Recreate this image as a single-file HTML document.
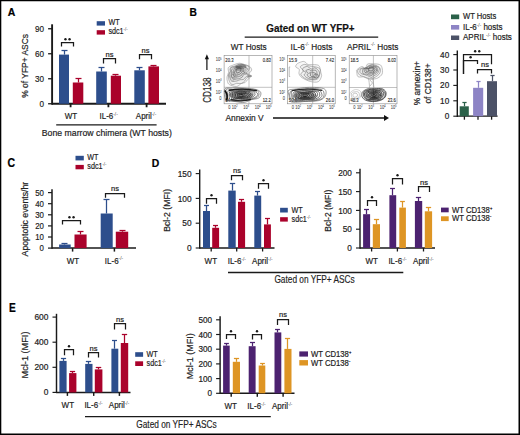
<!DOCTYPE html>
<html><head><meta charset="utf-8"><title>Figure</title>
<style>
html,body{margin:0;padding:0;background:#fff;}
body{width:520px;height:435px;overflow:hidden;}
svg{display:block;font-family:"Liberation Sans", sans-serif;}
</style></head>
<body>
<svg width="520" height="435" viewBox="0 0 520 435">
<rect x="0" y="0" width="520" height="435" fill="#fff"/>
<text transform="translate(7.7 15.9) scale(0.95 1)" font-size="11.03" text-anchor="start" font-weight="bold" fill="#000" stroke="#000" stroke-width="0.2" >A</text>
<line x1="52.1" y1="24.3" x2="52.1" y2="104.7" stroke="#1a1a1a" stroke-width="1.9"/>
<line x1="48.1" y1="103.75" x2="52.1" y2="103.75" stroke="#1a1a1a" stroke-width="1.3"/>
<text transform="translate(44 106.95) scale(0.83 1)" font-size="9.84" text-anchor="end" font-weight="normal" fill="#222" stroke="#222" stroke-width="0.2" >0</text>
<line x1="48.1" y1="78.75" x2="52.1" y2="78.75" stroke="#1a1a1a" stroke-width="1.3"/>
<text transform="translate(44 81.95) scale(0.83 1)" font-size="9.84" text-anchor="end" font-weight="normal" fill="#222" stroke="#222" stroke-width="0.2" >30</text>
<line x1="48.1" y1="53.75" x2="52.1" y2="53.75" stroke="#1a1a1a" stroke-width="1.3"/>
<text transform="translate(44 56.95) scale(0.83 1)" font-size="9.84" text-anchor="end" font-weight="normal" fill="#222" stroke="#222" stroke-width="0.2" >60</text>
<line x1="48.1" y1="28.75" x2="52.1" y2="28.75" stroke="#1a1a1a" stroke-width="1.3"/>
<text transform="translate(44 31.95) scale(0.83 1)" font-size="9.84" text-anchor="end" font-weight="normal" fill="#222" stroke="#222" stroke-width="0.2" >90</text>
<text transform="translate(28.2 65.9) rotate(-90) scale(1 1)" font-size="9.6" text-anchor="middle" fill="#222" stroke="#222" stroke-width="0.2" textLength="63.6" lengthAdjust="spacingAndGlyphs">% of YFP+ ASCs</text>
<line x1="52" y1="103.75" x2="166" y2="103.75" stroke="#1a1a1a" stroke-width="1.8"/>
<line x1="70.6" y1="103.75" x2="70.6" y2="107.25" stroke="#1a1a1a" stroke-width="1.8"/>
<line x1="108.4" y1="103.75" x2="108.4" y2="107.25" stroke="#1a1a1a" stroke-width="1.8"/>
<line x1="146.6" y1="103.75" x2="146.6" y2="107.25" stroke="#1a1a1a" stroke-width="1.8"/>
<rect x="59" y="54.6" width="10" height="49.15" fill="#2d4e8c"/>
<line x1="64.5" y1="54.6" x2="64.5" y2="50.5" stroke="#2d4e8c" stroke-width="1.25"/>
<line x1="61.5" y1="50.5" x2="67.5" y2="50.5" stroke="#2d4e8c" stroke-width="1.25"/>
<rect x="72.8" y="82.5" width="10.5" height="21.25" fill="#aa022b"/>
<line x1="78.5" y1="82.5" x2="78.5" y2="78.5" stroke="#aa022b" stroke-width="1.25"/>
<line x1="75.5" y1="78.5" x2="81.5" y2="78.5" stroke="#aa022b" stroke-width="1.25"/>
<rect x="96.2" y="71.5" width="10.6" height="32.25" fill="#2d4e8c"/>
<line x1="101.5" y1="71.5" x2="101.5" y2="67.5" stroke="#2d4e8c" stroke-width="1.25"/>
<line x1="98.5" y1="67.5" x2="104.5" y2="67.5" stroke="#2d4e8c" stroke-width="1.25"/>
<rect x="110.8" y="75.7" width="10.2" height="28.05" fill="#aa022b"/>
<line x1="115.5" y1="75.7" x2="115.5" y2="74.5" stroke="#aa022b" stroke-width="1.25"/>
<line x1="112.5" y1="74.5" x2="118.5" y2="74.5" stroke="#aa022b" stroke-width="1.25"/>
<rect x="134.3" y="70.3" width="10.5" height="33.45" fill="#2d4e8c"/>
<line x1="139.5" y1="70.3" x2="139.5" y2="67.5" stroke="#2d4e8c" stroke-width="1.25"/>
<line x1="136.5" y1="67.5" x2="142.5" y2="67.5" stroke="#2d4e8c" stroke-width="1.25"/>
<rect x="148.4" y="66.4" width="10.6" height="37.35" fill="#aa022b"/>
<line x1="153.5" y1="66.4" x2="153.5" y2="65.5" stroke="#aa022b" stroke-width="1.25"/>
<line x1="150.5" y1="65.5" x2="156.5" y2="65.5" stroke="#aa022b" stroke-width="1.25"/>
<path d="M61.5 46.4V42.5H73.5V46.4" fill="none" stroke="#1a1a1a" stroke-width="1.25"/>
<circle cx="65.45" cy="39.2" r="1.2" fill="#1a1a1a"/>
<circle cx="69.55" cy="39.2" r="1.2" fill="#1a1a1a"/>
<path d="M103.5 63.5V58.5H115.5V63.5" fill="none" stroke="#1a1a1a" stroke-width="1.25"/>
<text x="109.5" y="56.9" font-size="7.5" text-anchor="middle" font-weight="normal" fill="#222" stroke="#222" stroke-width="0.2" >ns</text>
<path d="M139.5 59.2V54.5H151.5V59.2" fill="none" stroke="#1a1a1a" stroke-width="1.25"/>
<text x="145.5" y="52.9" font-size="7.5" text-anchor="middle" font-weight="normal" fill="#222" stroke="#222" stroke-width="0.2" >ns</text>
<text transform="translate(71 119.2) scale(0.87 1)" font-size="9.2" text-anchor="middle" font-weight="normal" fill="#222" stroke="#222" stroke-width="0.2" >WT</text>
<text transform="translate(99.5 119.2) scale(0.87 1)" font-size="9.2" text-anchor="start" font-weight="normal" fill="#222" stroke="#222" stroke-width="0.2" >IL-6<tspan font-size="5.4" dy="-3.1" fill="#555" stroke="#555" stroke-width="0.05">-/-</tspan></text>
<text transform="translate(135.8 119.2) scale(0.87 1)" font-size="9.2" text-anchor="start" font-weight="normal" fill="#222" stroke="#222" stroke-width="0.2" >April<tspan font-size="5.4" dy="-3.1" fill="#555" stroke="#555" stroke-width="0.05">-/-</tspan></text>
<line x1="56.2" y1="124.8" x2="156.6" y2="124.8" stroke="#1a1a1a" stroke-width="1.3"/>
<text transform="translate(41.8 135.8) scale(0.87 1)" font-size="9.72" text-anchor="start" font-weight="normal" fill="#222" stroke="#222" stroke-width="0.2"  textLength="149.5" lengthAdjust="spacingAndGlyphs">Bone marrow chimera (WT hosts)</text>
<rect x="96.7" y="21.2" width="8.3" height="4.4" fill="#2d4e8c"/>
<text transform="translate(108.4 25.4) scale(0.78 1)" font-size="9.22" text-anchor="start" font-weight="normal" fill="#222" stroke="#222" stroke-width="0.2" >WT</text>
<rect x="96.7" y="30.2" width="8.3" height="4.4" fill="#aa022b"/>
<text transform="translate(108.4 34.3) scale(0.78 1)" font-size="9.22" text-anchor="start" font-weight="normal" fill="#222" stroke="#222" stroke-width="0.2" >sdc1<tspan font-size="5.4" dy="-3.1" fill="#555" stroke="#555" stroke-width="0.05">-/-</tspan></text>
<text transform="translate(189.4 15.9) scale(0.93 1)" font-size="11.02" text-anchor="start" font-weight="bold" fill="#000" stroke="#000" stroke-width="0.2" >B</text>
<text transform="translate(266.3 31.5) scale(0.89 1)" font-size="11.09" text-anchor="start" font-weight="bold" fill="#111" stroke="#111" stroke-width="0.2" >Gated on WT YFP+</text>
<line x1="244.7" y1="37.2" x2="378.2" y2="37.2" stroke="#1a1a1a" stroke-width="1.3"/>
<text transform="translate(230.8 49.6) scale(0.87 1)" font-size="9.43" text-anchor="start" font-weight="normal" fill="#222" stroke="#222" stroke-width="0.2" >WT Hosts</text>
<text transform="translate(290.6 49.6) scale(0.87 1)" font-size="9.43" text-anchor="start" font-weight="normal" fill="#222" stroke="#222" stroke-width="0.2" >IL-6<tspan font-size="5.3" dy="-3.6" fill="#555" stroke="#555" stroke-width="0.05">-/-</tspan><tspan dy="3.6"> Hosts</tspan></text>
<text transform="translate(347 49.6) scale(0.87 1)" font-size="9.43" text-anchor="start" font-weight="normal" fill="#222" stroke="#222" stroke-width="0.2" >APRIL<tspan font-size="5.3" dy="-3.6" fill="#555" stroke="#555" stroke-width="0.05">-/-</tspan><tspan dy="3.6"> Hosts</tspan></text>
<text transform="translate(211 102.8) rotate(-90) scale(1 1)" font-size="10.2" text-anchor="start" fill="#222" stroke="#222" stroke-width="0.2" textLength="25.2" lengthAdjust="spacingAndGlyphs">CD138</text>
<line x1="206.9" y1="70" x2="206.9" y2="58" stroke="#111" stroke-width="1.2"/>
<path d="M204.8 59.2L206.9 54.2L209.0 59.2Z" fill="#111"/>
<text transform="translate(225.4 121.2) scale(0.87 1)" font-size="9.66" text-anchor="start" font-weight="normal" fill="#222" stroke="#222" stroke-width="0.2" >Annexin V</text>
<line x1="273" y1="118" x2="385" y2="118" stroke="#111" stroke-width="1.3"/>
<path d="M384 115L389 118L384 121Z" fill="#111"/>
<rect x="224.1" y="55.5" width="47.9" height="48.3" fill="none" stroke="#888" stroke-width="0.6"/>
<line x1="249" y1="55.5" x2="249" y2="103.8" stroke="#999" stroke-width="0.6"/>
<line x1="224.1" y1="87.3" x2="272" y2="87.3" stroke="#999" stroke-width="0.6"/>
<text transform="translate(221.5 61.4) scale(0.87 1)" font-size="4.6" text-anchor="end" font-weight="normal" fill="#444" stroke="#444" stroke-width="0.05" >10<tspan font-size="2.6" dy="-1.3">5</tspan></text>
<text transform="translate(221.5 72) scale(0.87 1)" font-size="4.6" text-anchor="end" font-weight="normal" fill="#444" stroke="#444" stroke-width="0.05" >10<tspan font-size="2.6" dy="-1.3">4</tspan></text>
<text transform="translate(221.5 82.6) scale(0.87 1)" font-size="4.6" text-anchor="end" font-weight="normal" fill="#444" stroke="#444" stroke-width="0.05" >10<tspan font-size="2.6" dy="-1.3">3</tspan></text>
<text transform="translate(221.5 93.8) scale(0.87 1)" font-size="4.6" text-anchor="end" font-weight="normal" fill="#444" stroke="#444" stroke-width="0.05" >10<tspan font-size="2.6" dy="-1.3">2</tspan></text>
<text transform="translate(221.5 100) scale(0.87 1)" font-size="4.6" text-anchor="end" font-weight="normal" fill="#444" stroke="#444" stroke-width="0.05" >0</text>
<text transform="translate(229.37 108.6) scale(0.87 1)" font-size="4.6" text-anchor="middle" font-weight="normal" fill="#444" stroke="#444" stroke-width="0.05" >0</text>
<text transform="translate(234.64 108.6) scale(0.87 1)" font-size="4.6" text-anchor="middle" font-weight="normal" fill="#444" stroke="#444" stroke-width="0.05" >10<tspan font-size="2.6" dy="-1.3">2</tspan></text>
<text transform="translate(246.13 108.6) scale(0.87 1)" font-size="4.6" text-anchor="middle" font-weight="normal" fill="#444" stroke="#444" stroke-width="0.05" >10<tspan font-size="2.6" dy="-1.3">3</tspan></text>
<text transform="translate(257.63 108.6) scale(0.87 1)" font-size="4.6" text-anchor="middle" font-weight="normal" fill="#444" stroke="#444" stroke-width="0.05" >10<tspan font-size="2.6" dy="-1.3">4</tspan></text>
<text transform="translate(268.65 108.6) scale(0.87 1)" font-size="4.6" text-anchor="middle" font-weight="normal" fill="#444" stroke="#444" stroke-width="0.05" >10<tspan font-size="2.6" dy="-1.3">5</tspan></text>
<text transform="translate(225.3 61.6) scale(0.87 1)" font-size="4.83" text-anchor="start" font-weight="normal" fill="#222" stroke="#222" stroke-width="0.1" >20.3</text>
<text transform="translate(270.8 61.6) scale(0.87 1)" font-size="4.83" text-anchor="end" font-weight="normal" fill="#222" stroke="#222" stroke-width="0.1" >0.83</text>
<text transform="translate(225.3 102.2) scale(0.87 1)" font-size="4.83" text-anchor="start" font-weight="normal" fill="#222" stroke="#222" stroke-width="0.1" >64</text>
<text transform="translate(270.8 102.2) scale(0.87 1)" font-size="4.83" text-anchor="end" font-weight="normal" fill="#222" stroke="#222" stroke-width="0.1" >12.2</text>
<rect x="287.6" y="55.5" width="47.6" height="48.3" fill="none" stroke="#888" stroke-width="0.6"/>
<line x1="312.7" y1="55.5" x2="312.7" y2="103.8" stroke="#999" stroke-width="0.6"/>
<line x1="287.6" y1="87.3" x2="335.2" y2="87.3" stroke="#999" stroke-width="0.6"/>
<text transform="translate(285 61.4) scale(0.87 1)" font-size="4.6" text-anchor="end" font-weight="normal" fill="#444" stroke="#444" stroke-width="0.05" >10<tspan font-size="2.6" dy="-1.3">5</tspan></text>
<text transform="translate(285 72) scale(0.87 1)" font-size="4.6" text-anchor="end" font-weight="normal" fill="#444" stroke="#444" stroke-width="0.05" >10<tspan font-size="2.6" dy="-1.3">4</tspan></text>
<text transform="translate(285 82.6) scale(0.87 1)" font-size="4.6" text-anchor="end" font-weight="normal" fill="#444" stroke="#444" stroke-width="0.05" >10<tspan font-size="2.6" dy="-1.3">3</tspan></text>
<text transform="translate(285 93.8) scale(0.87 1)" font-size="4.6" text-anchor="end" font-weight="normal" fill="#444" stroke="#444" stroke-width="0.05" >10<tspan font-size="2.6" dy="-1.3">2</tspan></text>
<text transform="translate(285 100) scale(0.87 1)" font-size="4.6" text-anchor="end" font-weight="normal" fill="#444" stroke="#444" stroke-width="0.05" >0</text>
<text transform="translate(292.84 108.6) scale(0.87 1)" font-size="4.6" text-anchor="middle" font-weight="normal" fill="#444" stroke="#444" stroke-width="0.05" >0</text>
<text transform="translate(298.07 108.6) scale(0.87 1)" font-size="4.6" text-anchor="middle" font-weight="normal" fill="#444" stroke="#444" stroke-width="0.05" >10<tspan font-size="2.6" dy="-1.3">2</tspan></text>
<text transform="translate(309.5 108.6) scale(0.87 1)" font-size="4.6" text-anchor="middle" font-weight="normal" fill="#444" stroke="#444" stroke-width="0.05" >10<tspan font-size="2.6" dy="-1.3">3</tspan></text>
<text transform="translate(320.92 108.6) scale(0.87 1)" font-size="4.6" text-anchor="middle" font-weight="normal" fill="#444" stroke="#444" stroke-width="0.05" >10<tspan font-size="2.6" dy="-1.3">4</tspan></text>
<text transform="translate(331.87 108.6) scale(0.87 1)" font-size="4.6" text-anchor="middle" font-weight="normal" fill="#444" stroke="#444" stroke-width="0.05" >10<tspan font-size="2.6" dy="-1.3">5</tspan></text>
<text transform="translate(288.8 61.6) scale(0.87 1)" font-size="4.83" text-anchor="start" font-weight="normal" fill="#222" stroke="#222" stroke-width="0.1" >15.9</text>
<text transform="translate(334 61.6) scale(0.87 1)" font-size="4.83" text-anchor="end" font-weight="normal" fill="#222" stroke="#222" stroke-width="0.1" >7.42</text>
<text transform="translate(288.8 102.2) scale(0.87 1)" font-size="4.83" text-anchor="start" font-weight="normal" fill="#222" stroke="#222" stroke-width="0.1" >50.6</text>
<text transform="translate(334 102.2) scale(0.87 1)" font-size="4.83" text-anchor="end" font-weight="normal" fill="#222" stroke="#222" stroke-width="0.1" >26.0</text>
<rect x="349.2" y="55.5" width="47.8" height="48.3" fill="none" stroke="#888" stroke-width="0.6"/>
<line x1="373.4" y1="55.5" x2="373.4" y2="103.8" stroke="#999" stroke-width="0.6"/>
<line x1="349.2" y1="87.5" x2="397" y2="87.5" stroke="#999" stroke-width="0.6"/>
<text transform="translate(346.6 61.4) scale(0.87 1)" font-size="4.6" text-anchor="end" font-weight="normal" fill="#444" stroke="#444" stroke-width="0.05" >10<tspan font-size="2.6" dy="-1.3">5</tspan></text>
<text transform="translate(346.6 72) scale(0.87 1)" font-size="4.6" text-anchor="end" font-weight="normal" fill="#444" stroke="#444" stroke-width="0.05" >10<tspan font-size="2.6" dy="-1.3">4</tspan></text>
<text transform="translate(346.6 82.6) scale(0.87 1)" font-size="4.6" text-anchor="end" font-weight="normal" fill="#444" stroke="#444" stroke-width="0.05" >10<tspan font-size="2.6" dy="-1.3">3</tspan></text>
<text transform="translate(346.6 93.8) scale(0.87 1)" font-size="4.6" text-anchor="end" font-weight="normal" fill="#444" stroke="#444" stroke-width="0.05" >10<tspan font-size="2.6" dy="-1.3">2</tspan></text>
<text transform="translate(346.6 100) scale(0.87 1)" font-size="4.6" text-anchor="end" font-weight="normal" fill="#444" stroke="#444" stroke-width="0.05" >0</text>
<text transform="translate(354.46 108.6) scale(0.87 1)" font-size="4.6" text-anchor="middle" font-weight="normal" fill="#444" stroke="#444" stroke-width="0.05" >0</text>
<text transform="translate(359.72 108.6) scale(0.87 1)" font-size="4.6" text-anchor="middle" font-weight="normal" fill="#444" stroke="#444" stroke-width="0.05" >10<tspan font-size="2.6" dy="-1.3">2</tspan></text>
<text transform="translate(371.19 108.6) scale(0.87 1)" font-size="4.6" text-anchor="middle" font-weight="normal" fill="#444" stroke="#444" stroke-width="0.05" >10<tspan font-size="2.6" dy="-1.3">3</tspan></text>
<text transform="translate(382.66 108.6) scale(0.87 1)" font-size="4.6" text-anchor="middle" font-weight="normal" fill="#444" stroke="#444" stroke-width="0.05" >10<tspan font-size="2.6" dy="-1.3">4</tspan></text>
<text transform="translate(393.65 108.6) scale(0.87 1)" font-size="4.6" text-anchor="middle" font-weight="normal" fill="#444" stroke="#444" stroke-width="0.05" >10<tspan font-size="2.6" dy="-1.3">5</tspan></text>
<text transform="translate(350.4 61.6) scale(0.87 1)" font-size="4.83" text-anchor="start" font-weight="normal" fill="#222" stroke="#222" stroke-width="0.1" >18.5</text>
<text transform="translate(395.8 61.6) scale(0.87 1)" font-size="4.83" text-anchor="end" font-weight="normal" fill="#222" stroke="#222" stroke-width="0.1" >8.03</text>
<text transform="translate(350.4 102.2) scale(0.87 1)" font-size="4.83" text-anchor="start" font-weight="normal" fill="#222" stroke="#222" stroke-width="0.1" >48.3</text>
<text transform="translate(395.8 102.2) scale(0.87 1)" font-size="4.83" text-anchor="end" font-weight="normal" fill="#222" stroke="#222" stroke-width="0.1" >23.6</text>
<defs><filter id="bl" x="-10%" y="-10%" width="120%" height="120%"><feGaussianBlur stdDeviation="0.3"/></filter></defs>
<g fill="none" stroke-linejoin="round" filter="url(#bl)">
<path d="M228.37 67.61C229.07 66.4 230.87 65.97 232.69 65.25C234.51 64.52 237.44 63.33 239.3 63.26C241.16 63.18 242.23 64.38 243.83 64.81C245.44 65.24 247.61 65.01 248.92 65.86C250.23 66.72 251.71 68.58 251.69 69.93C251.67 71.28 248.87 72.9 248.81 73.94C248.75 74.98 251.58 75.17 251.33 76.16C251.09 77.15 248.37 78.81 247.32 79.88C246.28 80.95 246.04 81.98 245.06 82.58C244.07 83.17 242.82 82.8 241.41 83.45C240.01 84.11 238.6 86.32 236.62 86.52C234.64 86.72 231.06 85.52 229.52 84.67C227.98 83.83 227.79 82.73 227.38 81.43C226.96 80.14 226.84 78.4 227.03 76.91C227.21 75.42 228.29 74.06 228.51 72.51C228.74 70.96 227.68 68.82 228.37 67.61Z" stroke="#989898" stroke-width="0.6" fill="#000" fill-opacity="0.03"/>
<path d="M230.06 68.38C230.65 67.56 232.02 67.2 233.63 66.49C235.25 65.78 238.11 64.53 239.74 64.14C241.36 63.75 241.85 63.69 243.39 64.13C244.94 64.56 248.05 65.85 249.02 66.75C249.98 67.65 249.56 68.44 249.18 69.5C248.8 70.57 246.79 72.04 246.77 73.15C246.74 74.26 249.16 75.26 249.04 76.16C248.92 77.06 246.81 77.72 246.06 78.56C245.31 79.4 245.3 80.38 244.53 81.21C243.76 82.03 242.73 83.15 241.42 83.5C240.12 83.86 238.29 83.16 236.71 83.34C235.12 83.52 233.19 85.13 231.9 84.58C230.61 84.02 229.51 81.7 228.96 80.03C228.4 78.35 228.37 75.96 228.56 74.52C228.75 73.07 229.86 72.39 230.11 71.37C230.36 70.35 229.48 69.19 230.06 68.38Z" stroke="#8c8c8c" stroke-width="0.62" fill="#000" fill-opacity="0.03"/>
<path d="M231.19 67.23C231.96 66.45 233.96 67.2 235.12 67.03C236.29 66.85 236.84 66.55 238.18 66.18C239.51 65.81 241.8 64.56 243.14 64.82C244.49 65.08 245.43 67.04 246.24 67.74C247.05 68.44 248.08 68.33 247.99 69.03C247.9 69.74 245.69 71.03 245.7 71.97C245.72 72.91 248.13 73.78 248.08 74.67C248.04 75.55 246.23 76.47 245.44 77.28C244.64 78.09 244.21 79.1 243.31 79.51C242.41 79.92 241.1 79.48 240.03 79.72C238.96 79.96 238.25 80.71 236.88 80.96C235.5 81.22 232.93 81.81 231.77 81.26C230.61 80.71 230.4 78.72 229.93 77.66C229.45 76.6 228.83 75.87 228.93 74.88C229.02 73.89 230.13 73.02 230.51 71.74C230.88 70.47 230.42 68.02 231.19 67.23Z" stroke="#808080" stroke-width="0.65" fill="#000" fill-opacity="0.03"/>
<path d="M233.42 68.07C234.03 67.53 234.25 67.05 235.19 66.78C236.13 66.51 237.83 66.54 239.06 66.47C240.28 66.39 241.41 66.12 242.54 66.32C243.66 66.52 245.27 67.04 245.78 67.66C246.3 68.28 245.97 69.37 245.65 70.07C245.33 70.77 243.69 71.21 243.87 71.86C244.05 72.52 246.76 73.55 246.74 73.98C246.71 74.41 244.45 73.93 243.72 74.45C242.98 74.96 243.05 76.37 242.33 77.07C241.6 77.76 240.21 78.31 239.36 78.62C238.51 78.92 238.19 78.8 237.24 78.9C236.29 78.99 234.57 79.59 233.63 79.18C232.69 78.77 231.94 77.35 231.61 76.44C231.28 75.52 231.66 74.76 231.65 73.69C231.64 72.62 231.27 70.95 231.56 70.02C231.86 69.08 232.82 68.61 233.42 68.07Z" stroke="#747474" stroke-width="0.68" fill="#000" fill-opacity="0.03"/>
<path d="M234.33 69.02C234.7 68.48 234.96 67.65 235.72 67.28C236.48 66.92 237.95 66.91 238.9 66.81C239.86 66.7 240.67 66.43 241.45 66.66C242.22 66.88 243.14 67.66 243.55 68.14C243.97 68.62 243.98 69.05 243.94 69.53C243.9 70.01 243.22 70.39 243.3 71C243.39 71.61 244.64 72.77 244.48 73.2C244.31 73.62 242.74 73.26 242.32 73.56C241.9 73.85 242.43 74.51 241.94 74.97C241.45 75.44 240.1 76.05 239.38 76.36C238.66 76.67 238.45 76.75 237.62 76.83C236.79 76.91 235.11 77.16 234.4 76.85C233.69 76.54 233.51 75.76 233.34 74.96C233.17 74.17 233.34 72.83 233.36 72.1C233.39 71.36 233.32 71.05 233.48 70.53C233.64 70.02 233.96 69.56 234.33 69.02Z" stroke="#686868" stroke-width="0.7" fill="#000" fill-opacity="0.03"/>
<path d="M235.72 68.71C235.91 68.34 236.02 67.83 236.53 67.61C237.04 67.4 238.03 67.4 238.77 67.44C239.52 67.48 240.46 67.72 241 67.85C241.53 67.99 241.69 67.93 242 68.24C242.3 68.55 242.83 69.27 242.83 69.7C242.83 70.12 242.06 70.45 242 70.79C241.93 71.14 242.51 71.48 242.45 71.75C242.4 72.02 241.96 72.11 241.65 72.4C241.35 72.69 241.01 73.19 240.63 73.52C240.24 73.84 239.78 74.14 239.35 74.34C238.93 74.55 238.75 74.6 238.09 74.74C237.42 74.88 235.89 75.36 235.35 75.2C234.82 75.05 235.02 74.35 234.89 73.81C234.75 73.26 234.44 72.6 234.53 71.94C234.62 71.29 235.23 70.4 235.43 69.86C235.62 69.32 235.54 69.09 235.72 68.71Z" stroke="#5c5c5c" stroke-width="0.72" fill="#000" fill-opacity="0.03"/>
<path d="M236.82 69.16C237 68.92 237.28 68.66 237.58 68.51C237.88 68.36 238.23 68.35 238.6 68.28C238.96 68.21 239.4 68.02 239.77 68.09C240.14 68.16 240.61 68.5 240.84 68.7C241.07 68.9 241.17 69 241.15 69.28C241.12 69.56 240.67 70.09 240.69 70.39C240.72 70.69 241.34 70.93 241.3 71.09C241.27 71.25 240.76 71.18 240.49 71.34C240.22 71.49 239.92 71.86 239.67 72.02C239.41 72.18 239.19 72.18 238.94 72.3C238.69 72.43 238.53 72.68 238.18 72.77C237.83 72.87 237.18 73.05 236.86 72.87C236.54 72.7 236.38 72.06 236.25 71.72C236.12 71.39 236.04 71.17 236.08 70.87C236.12 70.58 236.37 70.22 236.49 69.94C236.61 69.65 236.64 69.4 236.82 69.16Z" stroke="#505050" stroke-width="0.75" fill="#000" fill-opacity="0.03"/>
<path d="M231.15 72.29C232.13 71.62 234.33 70.99 235.35 71.53C236.38 72.07 237.44 74.1 237.29 75.51C237.13 76.91 235.39 79.18 234.43 79.96C233.48 80.74 232.36 80.92 231.53 80.18C230.71 79.44 229.55 76.85 229.48 75.54C229.42 74.22 230.17 72.96 231.15 72.29Z" stroke="#a0a0a0" stroke-width="0.55"/>
<path d="M231.62 73.09C232.27 72.59 233.77 72.35 234.39 72.68C235 73.02 235.34 74.04 235.31 75.1C235.27 76.15 234.74 78.48 234.17 79.04C233.6 79.59 232.47 78.98 231.87 78.42C231.26 77.87 230.58 76.6 230.54 75.71C230.5 74.82 230.98 73.6 231.62 73.09Z" stroke="#888888" stroke-width="0.57"/>
<path d="M232.35 74.44C232.66 74.17 233.17 74.22 233.49 74.41C233.81 74.59 234.21 75.01 234.28 75.53C234.35 76.06 234.25 77.21 233.9 77.56C233.56 77.9 232.59 77.84 232.21 77.59C231.83 77.35 231.59 76.6 231.62 76.07C231.64 75.55 232.04 74.72 232.35 74.44Z" stroke="#707070" stroke-width="0.6"/>
<ellipse cx="238.7" cy="69" rx="3" ry="1.8" fill="#555" fill-opacity="0.5" stroke="none"/>
<path d="M224.75 89.01C225.87 87.04 229.66 88.1 232.21 87.9C234.76 87.7 237.19 87.71 240.05 87.81C242.91 87.91 246.5 88.16 249.38 88.51C252.26 88.86 255.43 89.17 257.35 89.91C259.27 90.64 260.64 91.59 260.9 92.93C261.15 94.27 260.47 96.84 258.89 97.96C257.32 99.07 253.93 98.87 251.47 99.61C249.02 100.36 246.74 102.09 244.18 102.43C241.62 102.77 238.53 101.95 236.11 101.66C233.69 101.36 231.43 100.99 229.67 100.67C227.9 100.34 226.32 101.65 225.5 99.71C224.68 97.76 223.64 90.98 224.75 89.01Z" stroke="#707070" stroke-width="0.7"/>
<path d="M226.1 89.59C227.11 87.85 230.36 89.7 232.62 89.57C234.89 89.44 236.9 88.91 239.68 88.82C242.46 88.73 246.5 88.82 249.28 89.01C252.07 89.2 254.78 89.25 256.38 89.97C257.99 90.69 258.75 92.1 258.93 93.31C259.1 94.51 258.83 96.14 257.45 97.2C256.08 98.25 252.98 99.03 250.68 99.65C248.37 100.27 245.94 100.62 243.63 100.92C241.33 101.21 239.15 101.44 236.85 101.42C234.55 101.4 231.55 101.04 229.84 100.81C228.13 100.58 227.21 101.89 226.58 100.02C225.96 98.15 225.09 91.33 226.1 89.59Z" stroke="#666666" stroke-width="0.73"/>
<path d="M228.36 90.4C229.47 88.75 232.32 89.52 234.27 89.41C236.23 89.29 237.82 89.66 240.08 89.73C242.33 89.79 245.48 89.57 247.82 89.83C250.16 90.08 252.47 90.55 254.13 91.23C255.79 91.92 257.47 93 257.76 93.94C258.05 94.88 257.16 95.99 255.88 96.87C254.59 97.74 252.11 98.59 250.04 99.2C247.98 99.8 245.59 100.18 243.48 100.49C241.36 100.79 239.36 101.07 237.33 101.04C235.3 101.01 232.91 100.61 231.29 100.32C229.67 100.03 228.1 100.97 227.61 99.32C227.12 97.66 227.25 92.05 228.36 90.4Z" stroke="#5c5c5c" stroke-width="0.77"/>
<path d="M229.8 91.7C230.71 90.33 233.19 90.52 234.92 90.29C236.64 90.06 238.15 90.29 240.14 90.32C242.13 90.35 244.76 90.32 246.85 90.47C248.93 90.61 251.28 90.55 252.64 91.19C254.01 91.83 254.9 93.4 255.01 94.31C255.12 95.21 254.38 95.83 253.31 96.62C252.25 97.4 250.4 98.46 248.63 99C246.85 99.54 244.52 99.64 242.67 99.86C240.81 100.07 239.12 100.28 237.48 100.28C235.83 100.29 234.14 100.2 232.8 99.91C231.46 99.62 229.93 99.92 229.43 98.55C228.93 97.18 228.88 93.08 229.8 91.7Z" stroke="#525252" stroke-width="0.8"/>
<path d="M231.08 92.11C231.81 90.85 234.36 91.12 235.86 90.88C237.35 90.63 238.34 90.6 240.06 90.64C241.79 90.69 244.31 90.96 246.2 91.16C248.08 91.37 250.24 91.39 251.37 91.89C252.51 92.38 252.94 93.35 253.01 94.15C253.08 94.96 252.62 96.01 251.8 96.71C250.97 97.41 249.53 97.9 248.03 98.34C246.53 98.78 244.45 99.28 242.79 99.37C241.12 99.47 239.52 98.92 238.05 98.89C236.58 98.87 235.07 99.28 233.98 99.21C232.89 99.13 232.01 99.61 231.52 98.43C231.04 97.25 230.36 93.37 231.08 92.11Z" stroke="#484848" stroke-width="0.83"/>
<path d="M232.68 92.28C233.19 91.26 234.81 92.11 236.05 91.94C237.29 91.77 238.56 91.34 240.11 91.28C241.65 91.22 243.76 91.43 245.32 91.6C246.89 91.77 248.55 91.87 249.51 92.29C250.46 92.72 251 93.47 251.05 94.15C251.11 94.83 250.65 95.71 249.85 96.35C249.04 96.99 247.43 97.65 246.22 97.99C245 98.33 243.88 98.3 242.55 98.39C241.21 98.48 239.51 98.58 238.2 98.53C236.89 98.49 235.57 98.19 234.7 98.12C233.84 98.04 233.34 99.05 233.01 98.08C232.67 97.1 232.17 93.31 232.68 92.28Z" stroke="#3f3f3f" stroke-width="0.87"/>
<path d="M234.29 92.92C234.73 92.06 235.94 92.41 236.96 92.28C237.98 92.16 239.1 92.16 240.42 92.17C241.73 92.18 243.62 92.11 244.83 92.32C246.04 92.52 246.91 93.05 247.67 93.39C248.43 93.74 249.29 93.95 249.41 94.38C249.53 94.8 249.04 95.43 248.38 95.96C247.73 96.49 246.49 97.18 245.48 97.54C244.48 97.9 243.5 98.06 242.37 98.12C241.24 98.19 239.82 97.96 238.72 97.93C237.61 97.91 236.5 98.05 235.77 97.96C235.04 97.88 234.57 98.27 234.33 97.43C234.08 96.59 233.85 93.77 234.29 92.92Z" stroke="#353535" stroke-width="0.9"/>
<path d="M235.78 93.38C236.19 92.83 237.38 93.43 238.2 93.4C239.03 93.36 239.8 93.18 240.75 93.16C241.69 93.14 242.99 93.2 243.89 93.29C244.79 93.37 245.58 93.45 246.15 93.66C246.72 93.87 247.27 94.18 247.31 94.55C247.35 94.93 246.88 95.53 246.38 95.92C245.87 96.32 244.99 96.66 244.27 96.9C243.55 97.13 242.85 97.24 242.06 97.36C241.26 97.47 240.31 97.63 239.52 97.59C238.73 97.56 237.95 97.31 237.32 97.16C236.69 97.01 235.99 97.32 235.73 96.69C235.48 96.06 235.37 93.92 235.78 93.38Z" stroke="#2b2b2b" stroke-width="0.93"/>
<path d="M237.32 93.98C237.57 93.6 238.39 94.01 238.97 93.97C239.55 93.93 240.12 93.74 240.78 93.74C241.43 93.73 242.29 93.86 242.9 93.94C243.51 94.02 244.04 94.05 244.47 94.23C244.9 94.41 245.41 94.76 245.48 95.03C245.55 95.29 245.27 95.57 244.89 95.8C244.51 96.04 243.76 96.27 243.19 96.44C242.63 96.62 242.04 96.79 241.5 96.84C240.96 96.88 240.49 96.73 239.95 96.72C239.41 96.71 238.66 96.85 238.25 96.77C237.84 96.7 237.63 96.72 237.48 96.25C237.32 95.79 237.07 94.36 237.32 93.98Z" stroke="#212121" stroke-width="0.97"/>
<path d="M238.9 94.58C239.06 94.36 239.57 94.58 239.87 94.57C240.17 94.56 240.34 94.52 240.7 94.51C241.06 94.51 241.67 94.51 242.04 94.55C242.41 94.58 242.69 94.63 242.89 94.71C243.1 94.79 243.24 94.89 243.28 95.04C243.32 95.19 243.3 95.47 243.12 95.63C242.94 95.78 242.52 95.88 242.2 95.97C241.89 96.07 241.54 96.16 241.23 96.18C240.92 96.19 240.64 96.09 240.33 96.07C240.03 96.04 239.63 96.05 239.4 96.02C239.16 96 239 96.15 238.92 95.91C238.83 95.67 238.74 94.81 238.9 94.58Z" stroke="#181818" stroke-width="1"/>
<ellipse cx="241" cy="95" rx="12" ry="4" fill="#333" fill-opacity="0.45" stroke="none"/>
<path d="M224.8 90.5 C227 93 228 96 226.5 100.5" stroke="#111" stroke-width="1.7"/>
<path d="M229 90.5 C236 88.6 248 88.4 257 90.8" stroke="#1a1a1a" stroke-width="1.3"/>
<path d="M231 99.6 C237 101 245 101 251 99.4" stroke="#222" stroke-width="1.2"/>
<ellipse cx="241" cy="66.5" rx="5.5" ry="2.4" fill="#444" fill-opacity="0.45" stroke="none"/>
<path d="M247 76.5 L251.5 76 M248 75 L251.5 76 L248 77.2" stroke="#777" stroke-width="0.6"/>
<path d="M297.38 63.66C298.6 62.74 301.66 61.57 303.1 61.41C304.54 61.26 305.17 62.21 306.02 62.73C306.87 63.25 306.46 64.19 308.18 64.53C309.9 64.87 314.46 64.44 316.34 64.76C318.22 65.09 318.68 65.15 319.44 66.49C320.21 67.83 320.59 71.17 320.94 72.81C321.28 74.44 321.95 74.83 321.5 76.31C321.06 77.79 320.1 80.84 318.25 81.71C316.4 82.57 313.09 82.16 310.4 81.5C307.71 80.84 304 79.01 302.11 77.74C300.22 76.46 299.56 75.26 299.07 73.85C298.59 72.45 299.74 70.49 299.19 69.33C298.65 68.17 296.08 67.85 295.78 66.91C295.48 65.96 296.16 64.57 297.38 63.66Z" stroke="#989898" stroke-width="0.6" fill="#000" fill-opacity="0.03"/>
<path d="M300.47 66.44C300.98 65.78 303.12 64.59 304.29 64.39C305.46 64.19 306.57 64.97 307.5 65.25C308.43 65.53 308.32 65.74 309.85 66.06C311.38 66.38 314.98 66.68 316.68 67.17C318.37 67.66 319.43 68.19 320 69C320.57 69.82 320.24 70.86 320.11 72.05C319.98 73.25 319.76 74.97 319.24 76.19C318.72 77.4 318.29 78.71 317 79.32C315.71 79.93 313.31 79.91 311.48 79.86C309.65 79.81 307.82 79.95 306.03 79.05C304.24 78.14 301.18 75.8 300.76 74.45C300.33 73.1 303.42 71.95 303.49 70.94C303.57 69.92 301.71 69.09 301.2 68.35C300.7 67.6 299.95 67.1 300.47 66.44Z" stroke="#8a8a8a" stroke-width="0.62" fill="#000" fill-opacity="0.03"/>
<path d="M302.99 68.15C303.64 67.41 306.06 66.5 306.95 66.31C307.84 66.13 307.55 66.6 308.33 67.04C309.11 67.49 310.58 68.85 311.63 68.98C312.68 69.11 313.67 67.77 314.63 67.84C315.59 67.91 316.61 68.6 317.41 69.41C318.22 70.22 319.31 71.53 319.48 72.73C319.66 73.92 319.16 75.57 318.47 76.6C317.79 77.64 316.63 78.5 315.37 78.94C314.11 79.38 312.38 79.47 310.9 79.23C309.42 78.99 307.63 78.24 306.5 77.5C305.38 76.75 304.24 75.58 304.16 74.75C304.08 73.92 306.2 73.16 306.02 72.49C305.83 71.83 303.56 71.47 303.06 70.75C302.55 70.03 302.34 68.89 302.99 68.15Z" stroke="#7c7c7c" stroke-width="0.65" fill="#000" fill-opacity="0.03"/>
<path d="M306.45 70.04C306.93 69.72 308.55 69.4 309.15 69.44C309.75 69.48 309.66 70.13 310.05 70.28C310.43 70.42 310.63 70.33 311.49 70.32C312.34 70.3 314.33 70.03 315.19 70.18C316.04 70.33 316.3 70.57 316.61 71.2C316.92 71.83 317.01 73.1 317.03 73.97C317.06 74.83 317.08 75.8 316.77 76.4C316.46 76.99 315.83 77.29 315.17 77.54C314.5 77.79 313.75 77.91 312.77 77.88C311.79 77.85 310.22 77.87 309.27 77.35C308.32 76.84 307.23 75.46 307.08 74.79C306.92 74.13 308.47 73.94 308.34 73.36C308.21 72.78 306.59 71.89 306.28 71.33C305.96 70.78 305.97 70.35 306.45 70.04Z" stroke="#6e6e6e" stroke-width="0.67" fill="#000" fill-opacity="0.03"/>
<path d="M310.03 72.66C310.26 72.51 310.43 72.25 310.8 72.17C311.17 72.09 311.93 72.16 312.25 72.19C312.56 72.23 312.37 72.27 312.7 72.37C313.02 72.47 313.74 72.63 314.2 72.8C314.66 72.97 315.18 73.06 315.45 73.38C315.73 73.7 315.78 74.32 315.84 74.71C315.9 75.1 316.03 75.4 315.81 75.74C315.6 76.08 315.05 76.62 314.54 76.77C314.02 76.92 313.26 76.67 312.72 76.62C312.18 76.58 311.69 76.73 311.29 76.48C310.89 76.23 310.41 75.55 310.32 75.11C310.24 74.66 310.92 74.14 310.77 73.81C310.62 73.47 309.56 73.29 309.44 73.1C309.31 72.91 309.8 72.82 310.03 72.66Z" stroke="#606060" stroke-width="0.7" fill="#000" fill-opacity="0.03"/>
<ellipse cx="316" cy="76" rx="2.4" ry="2" stroke="#666" stroke-width="0.6"/>
<path d="M290.2 67 H289.2 V76.5 H290.2" stroke="#888" stroke-width="0.6"/>
<path d="M288.66 90.26C289.88 89.2 293.61 89.43 296.26 88.99C298.91 88.55 301.52 87.89 304.56 87.62C307.6 87.36 311.38 87.27 314.51 87.42C317.63 87.56 321.4 87.78 323.33 88.48C325.25 89.18 325.81 90.2 326.04 91.6C326.27 93 325.97 95.4 324.71 96.9C323.45 98.41 321.7 99.9 318.47 100.65C315.24 101.4 309.15 101.12 305.32 101.39C301.49 101.65 297.99 102.25 295.51 102.22C293.02 102.19 291.53 102.37 290.43 101.23C289.34 100.08 289.25 97.17 288.96 95.34C288.66 93.51 287.45 91.32 288.66 90.26Z" stroke="#707070" stroke-width="0.7"/>
<path d="M291.12 90.95C292.26 90.04 294.25 89.98 296.56 89.67C298.87 89.36 302.05 89.29 304.97 89.1C307.89 88.9 311.41 88.42 314.09 88.5C316.77 88.59 319.45 89.02 321.06 89.59C322.66 90.15 323.3 90.62 323.7 91.9C324.09 93.18 324.5 95.87 323.43 97.27C322.37 98.67 320.24 99.6 317.33 100.29C314.42 100.99 309.44 101.27 305.96 101.45C302.47 101.63 298.83 101.61 296.41 101.36C293.98 101.1 292.5 100.95 291.38 99.91C290.27 98.87 289.77 96.61 289.72 95.12C289.68 93.62 289.98 91.86 291.12 90.95Z" stroke="#666666" stroke-width="0.73"/>
<path d="M291.82 91.11C292.87 90.15 295.73 90.09 297.85 89.83C299.97 89.57 302.08 89.66 304.56 89.54C307.04 89.41 310.29 88.98 312.72 89.09C315.15 89.2 317.66 89.56 319.11 90.2C320.55 90.84 320.98 91.86 321.39 92.93C321.8 94.01 322.52 95.47 321.57 96.66C320.62 97.85 318.4 99.51 315.68 100.09C312.96 100.67 308.2 100.02 305.26 100.16C302.33 100.31 300.11 101.07 298.08 100.95C296.04 100.83 294.14 100.35 293.06 99.46C291.98 98.57 291.81 96.98 291.6 95.59C291.4 94.2 290.78 92.07 291.82 91.11Z" stroke="#5c5c5c" stroke-width="0.77"/>
<path d="M294.04 92.03C294.94 91.3 296.51 91.27 298.31 91.02C300.11 90.77 302.61 90.6 304.84 90.53C307.06 90.47 309.51 90.53 311.67 90.64C313.83 90.76 316.47 90.81 317.78 91.25C319.09 91.68 319.28 92.34 319.51 93.26C319.75 94.18 320.09 95.75 319.17 96.77C318.26 97.79 316.28 98.87 314.01 99.38C311.73 99.88 308.13 99.66 305.51 99.8C302.89 99.93 300.19 100.3 298.27 100.18C296.35 100.07 294.88 99.89 293.98 99.09C293.08 98.3 292.86 96.59 292.87 95.41C292.88 94.23 293.13 92.76 294.04 92.03Z" stroke="#525252" stroke-width="0.8"/>
<path d="M295.25 92.35C295.92 91.71 297.48 91.61 299.07 91.35C300.67 91.08 302.89 90.74 304.81 90.75C306.74 90.75 308.82 91.26 310.61 91.4C312.41 91.53 314.43 91.16 315.58 91.53C316.74 91.9 317.34 92.78 317.54 93.61C317.73 94.45 317.56 95.65 316.76 96.55C315.97 97.44 314.69 98.53 312.75 98.99C310.81 99.45 307.35 99.15 305.13 99.29C302.92 99.44 301.01 99.91 299.46 99.84C297.91 99.76 296.56 99.64 295.83 98.87C295.09 98.09 295.14 96.27 295.04 95.18C294.95 94.1 294.58 92.99 295.25 92.35Z" stroke="#484848" stroke-width="0.83"/>
<path d="M296.42 92.89C297.11 92.36 299.24 92.44 300.63 92.29C302.02 92.14 303.15 92.12 304.76 92C306.37 91.88 308.72 91.55 310.29 91.59C311.87 91.64 313.33 91.91 314.2 92.27C315.06 92.64 315.36 93.08 315.48 93.76C315.61 94.44 315.65 95.62 314.94 96.36C314.24 97.1 312.88 97.73 311.25 98.18C309.61 98.63 306.96 99 305.15 99.05C303.34 99.11 301.69 98.66 300.4 98.51C299.12 98.37 298.12 98.69 297.46 98.19C296.81 97.68 296.66 96.37 296.49 95.48C296.31 94.6 295.73 93.42 296.42 92.89Z" stroke="#3f3f3f" stroke-width="0.87"/>
<path d="M298.21 93.34C298.72 92.9 300.01 92.79 301.16 92.64C302.32 92.48 303.78 92.46 305.13 92.42C306.48 92.38 308.05 92.3 309.24 92.39C310.43 92.49 311.56 92.71 312.25 92.99C312.93 93.27 313.19 93.52 313.33 94.08C313.47 94.63 313.58 95.66 313.11 96.33C312.64 97 311.85 97.76 310.51 98.09C309.17 98.42 306.66 98.26 305.07 98.32C303.48 98.39 302.06 98.51 300.99 98.48C299.91 98.45 299.09 98.68 298.62 98.16C298.14 97.63 298.19 96.12 298.13 95.32C298.06 94.51 297.7 93.79 298.21 93.34Z" stroke="#353535" stroke-width="0.9"/>
<path d="M299.64 93.93C300.04 93.56 301.35 93.51 302.23 93.42C303.11 93.32 303.94 93.35 304.9 93.36C305.86 93.37 307.07 93.41 307.99 93.48C308.92 93.56 309.86 93.59 310.46 93.83C311.06 94.06 311.48 94.43 311.61 94.87C311.73 95.3 311.66 96.02 311.23 96.44C310.79 96.86 309.97 97.15 308.98 97.39C307.99 97.63 306.4 97.86 305.28 97.89C304.15 97.92 303.12 97.64 302.24 97.57C301.37 97.5 300.41 97.79 300.01 97.47C299.61 97.15 299.9 96.23 299.84 95.64C299.78 95.05 299.24 94.3 299.64 93.93Z" stroke="#2b2b2b" stroke-width="0.93"/>
<path d="M301.35 94.76C301.62 94.49 302.3 94.29 302.87 94.17C303.44 94.05 304.05 94.07 304.76 94.04C305.47 94.02 306.45 93.94 307.14 94.02C307.83 94.1 308.47 94.33 308.88 94.52C309.29 94.7 309.56 94.87 309.62 95.15C309.68 95.43 309.52 95.88 309.23 96.18C308.93 96.49 308.52 96.8 307.83 96.97C307.13 97.15 305.88 97.23 305.05 97.25C304.21 97.27 303.36 97.16 302.81 97.11C302.27 97.06 302.04 97.18 301.78 96.97C301.51 96.75 301.3 96.17 301.23 95.8C301.16 95.43 301.07 95.03 301.35 94.76Z" stroke="#212121" stroke-width="0.97"/>
<path d="M302.95 95.12C303.1 94.97 303.4 94.99 303.72 94.98C304.04 94.97 304.47 95.03 304.85 95.03C305.24 95.04 305.66 94.99 306.04 94.99C306.41 95 306.86 94.98 307.1 95.07C307.34 95.15 307.45 95.33 307.48 95.48C307.51 95.64 307.45 95.83 307.28 96C307.1 96.17 306.81 96.44 306.43 96.53C306.05 96.62 305.45 96.54 305.01 96.55C304.56 96.56 304.11 96.61 303.78 96.6C303.45 96.59 303.19 96.63 303.03 96.51C302.87 96.38 302.83 96.09 302.82 95.85C302.81 95.62 302.8 95.26 302.95 95.12Z" stroke="#181818" stroke-width="1"/>
<ellipse cx="305" cy="96" rx="12" ry="4" fill="#333" fill-opacity="0.45" stroke="none"/>
<path d="M292 90.8 C300 88.8 312 88.5 322 90.5" stroke="#222" stroke-width="1.1"/>
<path d="M357.04 69.61C357.9 68.69 360.51 66.78 361.92 66.58C363.34 66.38 364.63 68.8 365.53 68.41C366.43 68.02 366.24 64.99 367.32 64.22C368.41 63.45 370.03 63.72 372.05 63.77C374.08 63.82 377.83 63.86 379.49 64.5C381.15 65.15 381.55 66.07 382 67.63C382.45 69.2 382.89 72.16 382.19 73.89C381.49 75.62 379.31 77.12 377.8 78C376.29 78.87 373.97 78.91 373.12 79.13C372.28 79.34 373.54 79.3 372.75 79.3C371.97 79.3 369.88 79.51 368.41 79.12C366.94 78.72 365.63 77.31 363.91 76.92C362.19 76.53 359.27 77.57 358.08 76.76C356.89 75.96 356.95 73.31 356.78 72.12C356.6 70.93 356.19 70.54 357.04 69.61Z" stroke="#989898" stroke-width="0.6" fill="#000" fill-opacity="0.03"/>
<path d="M358.14 69.76C358.89 69.07 361.12 68.31 362.29 68.13C363.46 67.95 364.21 68.99 365.18 68.67C366.14 68.36 366.96 66.97 368.08 66.26C369.2 65.56 370.38 64.49 371.9 64.45C373.41 64.4 375.76 65.22 377.16 65.97C378.55 66.72 379.83 67.77 380.28 68.93C380.74 70.09 380.31 71.85 379.88 72.94C379.45 74.03 378.73 74.63 377.7 75.48C376.67 76.33 374.66 77.56 373.7 78.03C372.73 78.49 372.86 78.27 371.91 78.29C370.96 78.31 369.39 78.45 368 78.16C366.6 77.87 364.9 77.05 363.53 76.55C362.17 76.05 360.79 75.87 359.83 75.16C358.87 74.45 358.07 73.21 357.79 72.31C357.51 71.41 357.39 70.46 358.14 69.76Z" stroke="#8c8c8c" stroke-width="0.62" fill="#000" fill-opacity="0.03"/>
<path d="M361.34 68.73C361.95 68.23 362.53 68.27 363.42 68.13C364.32 68 366.06 68.22 366.71 67.93C367.37 67.65 366.43 66.88 367.35 66.44C368.27 66 370.71 65.31 372.24 65.29C373.77 65.26 375.34 65.81 376.53 66.26C377.73 66.71 379.15 66.92 379.4 67.99C379.66 69.05 378.52 71.62 378.08 72.65C377.63 73.68 377.53 73.56 376.73 74.16C375.94 74.76 374.15 75.7 373.29 76.24C372.44 76.78 372.23 77.37 371.59 77.41C370.95 77.44 370.58 76.9 369.47 76.47C368.37 76.03 366.37 75.26 364.97 74.79C363.58 74.31 361.97 74.23 361.1 73.62C360.24 73.01 359.75 71.96 359.8 71.14C359.84 70.33 360.74 69.24 361.34 68.73Z" stroke="#808080" stroke-width="0.65" fill="#000" fill-opacity="0.03"/>
<path d="M363.01 69.04C363.47 68.63 364.57 68.5 365.37 68.3C366.16 68.11 367.15 68.22 367.77 67.86C368.4 67.49 368.32 66.35 369.11 66.11C369.9 65.87 371.38 66.34 372.53 66.41C373.67 66.47 375.23 66.24 375.99 66.48C376.75 66.73 376.84 67.13 377.09 67.9C377.34 68.67 377.77 70.15 377.46 71.09C377.16 72.03 376.08 72.96 375.24 73.52C374.39 74.08 372.96 74.11 372.4 74.45C371.83 74.8 372.42 75.5 371.87 75.58C371.32 75.67 370.01 75.23 369.07 74.98C368.14 74.74 367.25 74.32 366.26 74.12C365.28 73.91 363.74 74.32 363.13 73.76C362.52 73.2 362.62 71.56 362.6 70.77C362.58 69.99 362.55 69.46 363.01 69.04Z" stroke="#747474" stroke-width="0.68" fill="#000" fill-opacity="0.03"/>
<path d="M364.3 68.71C364.62 68.21 365.52 67.65 366.21 67.63C366.9 67.61 367.95 68.62 368.43 68.6C368.9 68.58 368.5 67.81 369.06 67.5C369.62 67.19 370.76 66.79 371.77 66.74C372.79 66.69 374.39 66.91 375.13 67.19C375.88 67.46 376.03 67.76 376.24 68.41C376.44 69.06 376.72 70.41 376.36 71.1C376.01 71.8 374.73 72.21 374.08 72.6C373.44 72.99 372.92 73.24 372.49 73.45C372.05 73.66 371.96 73.78 371.49 73.85C371.02 73.91 370.33 74.01 369.67 73.86C369.01 73.7 368.31 73.18 367.51 72.92C366.72 72.66 365.42 72.66 364.88 72.27C364.34 71.89 364.36 71.2 364.27 70.61C364.17 70.02 363.97 69.21 364.3 68.71Z" stroke="#686868" stroke-width="0.7" fill="#000" fill-opacity="0.03"/>
<path d="M366.01 68.84C366.35 68.57 367.5 68.55 367.99 68.55C368.49 68.55 368.73 69.01 368.98 68.83C369.23 68.66 369.02 67.74 369.47 67.51C369.92 67.28 371.03 67.44 371.68 67.47C372.32 67.49 372.81 67.44 373.35 67.65C373.89 67.86 374.69 68.34 374.94 68.74C375.18 69.14 375.05 69.54 374.83 70.07C374.61 70.59 374.13 71.54 373.61 71.89C373.08 72.25 372.03 72.09 371.68 72.19C371.33 72.29 371.77 72.42 371.51 72.48C371.24 72.54 370.6 72.68 370.1 72.57C369.6 72.45 369.15 71.99 368.53 71.79C367.91 71.58 366.8 71.62 366.37 71.36C365.94 71.09 366.02 70.61 365.96 70.19C365.9 69.77 365.67 69.12 366.01 68.84Z" stroke="#5c5c5c" stroke-width="0.72" fill="#000" fill-opacity="0.03"/>
<path d="M368.11 68.94C368.24 68.8 368.7 68.76 369.02 68.73C369.33 68.7 369.83 68.83 369.99 68.76C370.15 68.69 369.78 68.41 370 68.3C370.23 68.19 370.88 68.15 371.34 68.1C371.79 68.06 372.41 67.91 372.73 68.01C373.06 68.12 373.24 68.43 373.29 68.71C373.34 69 373.17 69.44 373.03 69.73C372.88 70.03 372.65 70.32 372.42 70.5C372.18 70.68 371.83 70.71 371.6 70.81C371.37 70.91 371.24 71.08 371.05 71.1C370.86 71.12 370.77 71 370.47 70.92C370.18 70.85 369.64 70.7 369.28 70.65C368.92 70.59 368.46 70.77 368.29 70.59C368.11 70.41 368.24 69.84 368.21 69.56C368.19 69.28 367.97 69.08 368.11 68.94Z" stroke="#505050" stroke-width="0.75" fill="#000" fill-opacity="0.03"/>
<path d="M368.5 78 C369 81 369.5 84 369.5 88 M373 78 C373 81 373.5 84 374 88 M370 80 L372.5 83 L370 86" stroke="#999" stroke-width="0.6"/>
<path d="M363.18 91.28C364.2 90.46 366.07 89.23 368.02 88.81C369.97 88.4 372.6 88.82 374.89 88.8C377.19 88.77 379.98 88.15 381.79 88.65C383.6 89.14 385.17 90.41 385.76 91.76C386.35 93.11 386.19 95.34 385.33 96.77C384.47 98.2 382.69 99.53 380.61 100.33C378.52 101.13 375.3 101.58 372.81 101.57C370.33 101.56 367.47 101.03 365.7 100.27C363.93 99.52 362.84 98.13 362.2 97.04C361.57 95.95 361.73 94.69 361.89 93.73C362.05 92.77 362.16 92.11 363.18 91.28Z" stroke="#404040" stroke-width="0.8" fill="#000" fill-opacity="0.05"/>
<path d="M364.48 91.4C365.28 90.81 366.53 90.13 368.3 89.72C370.08 89.32 372.96 89.02 375.12 88.98C377.28 88.95 379.61 88.9 381.26 89.52C382.92 90.13 384.51 91.38 385.05 92.66C385.59 93.95 385.34 96 384.49 97.22C383.65 98.44 381.86 99.33 379.99 99.97C378.13 100.62 375.52 101.12 373.32 101.09C371.11 101.06 368.36 100.56 366.78 99.79C365.21 99.02 364.42 97.55 363.88 96.47C363.33 95.38 363.4 94.11 363.5 93.26C363.6 92.42 363.68 91.99 364.48 91.4Z" stroke="#3c3c3c" stroke-width="0.83" fill="#000" fill-opacity="0.05"/>
<path d="M365.38 91.94C366.14 91.3 367.46 90.59 369.02 90.22C370.59 89.86 372.86 89.67 374.78 89.75C376.7 89.82 379.07 90.22 380.55 90.68C382.03 91.15 383.32 91.56 383.66 92.54C384.01 93.51 383.35 95.37 382.6 96.54C381.85 97.7 380.75 98.97 379.16 99.53C377.56 100.08 374.96 99.87 373.04 99.86C371.11 99.84 368.89 99.99 367.59 99.45C366.29 98.9 365.73 97.5 365.21 96.6C364.7 95.7 364.46 94.82 364.48 94.04C364.51 93.27 364.63 92.58 365.38 91.94Z" stroke="#383838" stroke-width="0.85" fill="#000" fill-opacity="0.05"/>
<path d="M366.33 92.24C367 91.73 368.76 91.44 370.11 91.13C371.45 90.81 372.86 90.32 374.4 90.33C375.95 90.34 378.15 90.74 379.36 91.2C380.58 91.65 381.35 92.23 381.72 93.06C382.08 93.89 382.1 95.24 381.55 96.17C381.01 97.11 379.84 98.15 378.47 98.65C377.1 99.16 374.93 99.12 373.31 99.21C371.68 99.3 369.87 99.69 368.72 99.19C367.57 98.68 366.86 96.99 366.42 96.16C365.97 95.33 366.07 94.85 366.06 94.2C366.04 93.54 365.65 92.75 366.33 92.24Z" stroke="#343434" stroke-width="0.88" fill="#000" fill-opacity="0.05"/>
<path d="M367.56 92.85C368.16 92.41 369.52 92.16 370.73 91.93C371.93 91.7 373.5 91.42 374.8 91.44C376.1 91.46 377.57 91.71 378.53 92.05C379.49 92.39 380.28 92.75 380.56 93.48C380.84 94.2 380.62 95.66 380.19 96.42C379.77 97.19 379.16 97.67 378.01 98.07C376.85 98.46 374.66 98.79 373.27 98.8C371.88 98.81 370.63 98.56 369.66 98.14C368.69 97.72 367.88 96.88 367.46 96.28C367.04 95.68 367.13 95.1 367.15 94.53C367.16 93.95 366.97 93.28 367.56 92.85Z" stroke="#303030" stroke-width="0.9" fill="#000" fill-opacity="0.05"/>
<path d="M369.15 93.59C369.62 93.23 370.5 92.72 371.36 92.48C372.23 92.24 373.32 92.17 374.35 92.17C375.39 92.17 376.76 92.17 377.57 92.48C378.38 92.78 378.96 93.4 379.2 93.99C379.44 94.59 379.33 95.46 379.02 96.07C378.71 96.68 378.23 97.35 377.34 97.67C376.46 97.99 374.88 98 373.72 98C372.56 98.01 371.21 98.03 370.39 97.7C369.56 97.37 369.05 96.53 368.75 96.03C368.44 95.52 368.51 95.07 368.58 94.67C368.64 94.26 368.69 93.96 369.15 93.59Z" stroke="#2c2c2c" stroke-width="0.93" fill="#000" fill-opacity="0.05"/>
<path d="M370.42 93.73C370.77 93.44 371.37 93.28 372.02 93.13C372.67 92.97 373.53 92.79 374.31 92.79C375.09 92.79 376.05 92.88 376.67 93.12C377.29 93.36 377.84 93.78 378.03 94.24C378.23 94.69 378.15 95.33 377.86 95.84C377.58 96.34 377.01 96.96 376.3 97.26C375.6 97.55 374.48 97.6 373.62 97.6C372.77 97.59 371.75 97.49 371.17 97.22C370.58 96.95 370.32 96.37 370.11 95.98C369.9 95.58 369.87 95.22 369.92 94.84C369.98 94.47 370.07 94.01 370.42 93.73Z" stroke="#282828" stroke-width="0.95" fill="#000" fill-opacity="0.05"/>
<path d="M371.49 94.24C371.73 94.05 372.22 93.94 372.66 93.86C373.11 93.79 373.63 93.78 374.17 93.77C374.71 93.77 375.5 93.71 375.92 93.83C376.34 93.96 376.55 94.21 376.68 94.52C376.8 94.84 376.86 95.38 376.67 95.71C376.47 96.04 375.99 96.34 375.51 96.52C375.03 96.69 374.35 96.76 373.78 96.78C373.22 96.8 372.52 96.82 372.13 96.64C371.73 96.45 371.55 95.94 371.4 95.67C371.24 95.4 371.19 95.25 371.2 95.02C371.22 94.78 371.25 94.43 371.49 94.24Z" stroke="#242424" stroke-width="0.97" fill="#000" fill-opacity="0.05"/>
<path d="M372.65 94.81C372.77 94.72 373.01 94.63 373.26 94.57C373.51 94.51 373.88 94.46 374.16 94.45C374.43 94.44 374.72 94.45 374.92 94.53C375.13 94.61 375.32 94.76 375.4 94.94C375.47 95.12 375.47 95.42 375.38 95.59C375.29 95.76 375.09 95.89 374.83 95.96C374.58 96.04 374.13 96.05 373.82 96.05C373.52 96.05 373.21 96.04 373.02 95.95C372.82 95.87 372.74 95.67 372.65 95.53C372.57 95.39 372.52 95.24 372.52 95.12C372.52 95 372.52 94.91 372.65 94.81Z" stroke="#202020" stroke-width="1" fill="#000" fill-opacity="0.05"/>
<path d="M350.42 92.45C351.4 91.11 353.78 89.84 355.39 89.58C357 89.33 359.15 90.08 360.09 90.92C361.03 91.76 361.26 93.29 361.03 94.63C360.8 95.97 360.08 98.06 358.69 98.94C357.31 99.83 354.25 100.18 352.72 99.96C351.19 99.73 349.91 98.84 349.52 97.59C349.14 96.33 349.45 93.78 350.42 92.45Z" stroke="#a8a8a8" stroke-width="0.5"/>
<path d="M351.65 92.99C352.2 92.1 353.88 91.97 355.01 91.81C356.13 91.65 357.67 91.47 358.4 92.04C359.13 92.61 359.48 94.21 359.4 95.21C359.32 96.21 358.82 97.48 357.91 98.03C357 98.59 354.97 98.7 353.93 98.55C352.89 98.41 352.06 98.08 351.68 97.16C351.3 96.23 351.09 93.89 351.65 92.99Z" stroke="#9c9c9c" stroke-width="0.5"/>
<path d="M353.03 94.16C353.33 93.62 354.27 93.2 354.93 93.13C355.59 93.07 356.57 93.43 356.99 93.79C357.41 94.14 357.49 94.78 357.44 95.28C357.38 95.78 357.22 96.45 356.66 96.77C356.1 97.1 354.66 97.3 354.07 97.23C353.48 97.16 353.3 96.89 353.13 96.38C352.95 95.87 352.73 94.7 353.03 94.16Z" stroke="#909090" stroke-width="0.5"/>
</g>
<rect x="451" y="14.5" width="8.2" height="4.7" fill="#2b6149"/>
<text transform="translate(463 19.2) scale(0.87 1)" font-size="8.74" text-anchor="start" font-weight="normal" fill="#222" stroke="#222" stroke-width="0.2" >WT Hosts</text>
<rect x="451" y="25" width="8.2" height="4.6" fill="#8d84c5"/>
<text transform="translate(463 29.6) scale(0.87 1)" font-size="9.2" text-anchor="start" font-weight="normal" fill="#222" stroke="#222" stroke-width="0.2" >IL-6<tspan font-size="5.4" dy="-3.1" fill="#555" stroke="#555" stroke-width="0.05">-/-</tspan><tspan dy="3.1"> hosts</tspan></text>
<rect x="451" y="35.5" width="8.2" height="4.5" fill="#4c5267"/>
<text transform="translate(463 40) scale(0.87 1)" font-size="9.2" text-anchor="start" font-weight="normal" fill="#222" stroke="#222" stroke-width="0.2" >APRIL<tspan font-size="5.4" dy="-3.1" fill="#555" stroke="#555" stroke-width="0.05">-/-</tspan><tspan dy="3.1"> hosts</tspan></text>
<line x1="457.3" y1="50.5" x2="457.3" y2="116.9" stroke="#1a1a1a" stroke-width="1.4"/>
<line x1="453.3" y1="116.2" x2="457.3" y2="116.2" stroke="#1a1a1a" stroke-width="1.12"/>
<text x="449.2" y="119.1" font-size="8.2" text-anchor="end" font-weight="normal" fill="#222" stroke="#222" stroke-width="0.2" >0</text>
<line x1="453.3" y1="100.8" x2="457.3" y2="100.8" stroke="#1a1a1a" stroke-width="1.12"/>
<text x="449.2" y="103.7" font-size="8.2" text-anchor="end" font-weight="normal" fill="#222" stroke="#222" stroke-width="0.2" >10</text>
<line x1="453.3" y1="85.4" x2="457.3" y2="85.4" stroke="#1a1a1a" stroke-width="1.12"/>
<text x="449.2" y="88.3" font-size="8.2" text-anchor="end" font-weight="normal" fill="#222" stroke="#222" stroke-width="0.2" >20</text>
<line x1="453.3" y1="70" x2="457.3" y2="70" stroke="#1a1a1a" stroke-width="1.12"/>
<text x="449.2" y="72.9" font-size="8.2" text-anchor="end" font-weight="normal" fill="#222" stroke="#222" stroke-width="0.2" >30</text>
<line x1="453.3" y1="54.6" x2="457.3" y2="54.6" stroke="#1a1a1a" stroke-width="1.12"/>
<text x="449.2" y="57.5" font-size="8.2" text-anchor="end" font-weight="normal" fill="#222" stroke="#222" stroke-width="0.2" >40</text>
<line x1="457.1" y1="116.2" x2="497.6" y2="116.2" stroke="#1a1a1a" stroke-width="1.3"/>
<line x1="464.4" y1="116.2" x2="464.4" y2="119.7" stroke="#1a1a1a" stroke-width="1.3"/>
<line x1="478" y1="116.2" x2="478" y2="119.7" stroke="#1a1a1a" stroke-width="1.3"/>
<line x1="491.6" y1="116.2" x2="491.6" y2="119.7" stroke="#1a1a1a" stroke-width="1.3"/>
<rect x="459.7" y="106.3" width="9.1" height="9.9" fill="#2b6149"/>
<line x1="464.5" y1="106.3" x2="464.5" y2="102.5" stroke="#2b6149" stroke-width="1.25"/>
<line x1="462.4" y1="102.5" x2="466.6" y2="102.5" stroke="#2b6149" stroke-width="1.25"/>
<rect x="473.1" y="87.8" width="10.1" height="28.4" fill="#8d84c5"/>
<line x1="478.5" y1="87.8" x2="478.5" y2="81.5" stroke="#8d84c5" stroke-width="1.25"/>
<line x1="476.4" y1="81.5" x2="480.6" y2="81.5" stroke="#8d84c5" stroke-width="1.25"/>
<rect x="487" y="81.2" width="10" height="35" fill="#4c5267"/>
<line x1="492.5" y1="81.2" x2="492.5" y2="75.5" stroke="#4c5267" stroke-width="1.25"/>
<line x1="490.4" y1="75.5" x2="494.6" y2="75.5" stroke="#4c5267" stroke-width="1.25"/>
<path d="M463.5 74.1V54.5H491.5V64.2" fill="none" stroke="#1a1a1a" stroke-width="1.25"/>
<circle cx="475.15" cy="51.2" r="1.2" fill="#1a1a1a"/>
<circle cx="479.25" cy="51.2" r="1.2" fill="#1a1a1a"/>
<path d="M463.5 74.1V60.5H477.5V63.9" fill="none" stroke="#1a1a1a" stroke-width="1.25"/>
<circle cx="470.6" cy="57.2" r="1.2" fill="#1a1a1a"/>
<path d="M477.5 73.4V69.5H491.5V73.4" fill="none" stroke="#1a1a1a" stroke-width="1.25"/>
<text x="485" y="67.2" font-size="7.5" text-anchor="middle" font-weight="normal" fill="#222" stroke="#222" stroke-width="0.2" >ns</text>
<text transform="translate(419.8 83.1) rotate(-90) scale(1 1)" font-size="9" text-anchor="middle" fill="#222" stroke="#222" stroke-width="0.2" textLength="44.2" lengthAdjust="spacingAndGlyphs">% annexin+</text>
<text transform="translate(431.2 83.5) rotate(-90) scale(1 1)" font-size="9" text-anchor="middle" fill="#222" stroke="#222" stroke-width="0.2" textLength="40.1" lengthAdjust="spacingAndGlyphs">of CD138+</text>
<text transform="translate(7.6 167.1) scale(0.85 1)" font-size="12.39" text-anchor="start" font-weight="bold" fill="#000" stroke="#000" stroke-width="0.2" >C</text>
<rect x="75.5" y="155.8" width="8.3" height="4.6" fill="#2d4e8c"/>
<text transform="translate(87.3 160.4) scale(0.78 1)" font-size="9.22" text-anchor="start" font-weight="normal" fill="#222" stroke="#222" stroke-width="0.2" >WT</text>
<rect x="75.5" y="164.9" width="8.3" height="4.4" fill="#aa022b"/>
<text transform="translate(87.3 169.2) scale(0.78 1)" font-size="9.22" text-anchor="start" font-weight="normal" fill="#222" stroke="#222" stroke-width="0.2" >sdc1<tspan font-size="5.4" dy="-3.1" fill="#555" stroke="#555" stroke-width="0.05">-/-</tspan></text>
<line x1="52" y1="189.2" x2="52" y2="248.85" stroke="#1a1a1a" stroke-width="1.5"/>
<line x1="48" y1="248.1" x2="52" y2="248.1" stroke="#1a1a1a" stroke-width="1.2"/>
<text transform="translate(43.9 251.3) scale(0.83 1)" font-size="9.48" text-anchor="end" font-weight="normal" fill="#222" stroke="#222" stroke-width="0.2" >0</text>
<line x1="48" y1="237" x2="52" y2="237" stroke="#1a1a1a" stroke-width="1.2"/>
<text transform="translate(43.9 240.2) scale(0.83 1)" font-size="9.48" text-anchor="end" font-weight="normal" fill="#222" stroke="#222" stroke-width="0.2" >10</text>
<line x1="48" y1="225.9" x2="52" y2="225.9" stroke="#1a1a1a" stroke-width="1.2"/>
<text transform="translate(43.9 229.1) scale(0.83 1)" font-size="9.48" text-anchor="end" font-weight="normal" fill="#222" stroke="#222" stroke-width="0.2" >20</text>
<line x1="48" y1="214.8" x2="52" y2="214.8" stroke="#1a1a1a" stroke-width="1.2"/>
<text transform="translate(43.9 218) scale(0.83 1)" font-size="9.48" text-anchor="end" font-weight="normal" fill="#222" stroke="#222" stroke-width="0.2" >30</text>
<line x1="48" y1="203.7" x2="52" y2="203.7" stroke="#1a1a1a" stroke-width="1.2"/>
<text transform="translate(43.9 206.9) scale(0.83 1)" font-size="9.48" text-anchor="end" font-weight="normal" fill="#222" stroke="#222" stroke-width="0.2" >40</text>
<line x1="48" y1="192.6" x2="52" y2="192.6" stroke="#1a1a1a" stroke-width="1.2"/>
<text transform="translate(43.9 195.8) scale(0.83 1)" font-size="9.48" text-anchor="end" font-weight="normal" fill="#222" stroke="#222" stroke-width="0.2" >50</text>
<line x1="52" y1="248.1" x2="136" y2="248.1" stroke="#1a1a1a" stroke-width="1.5"/>
<line x1="72.6" y1="248.1" x2="72.6" y2="251.6" stroke="#1a1a1a" stroke-width="1.5"/>
<line x1="114.4" y1="248.1" x2="114.4" y2="251.6" stroke="#1a1a1a" stroke-width="1.5"/>
<rect x="59.1" y="244.5" width="11.6" height="3.6" fill="#2d4e8c"/>
<line x1="64.5" y1="244.5" x2="64.5" y2="243.5" stroke="#2d4e8c" stroke-width="1.25"/>
<line x1="61.5" y1="243.5" x2="67.5" y2="243.5" stroke="#2d4e8c" stroke-width="1.25"/>
<rect x="74.5" y="234.5" width="12.1" height="13.6" fill="#aa022b"/>
<line x1="80.5" y1="234.5" x2="80.5" y2="231.5" stroke="#aa022b" stroke-width="1.25"/>
<line x1="77.5" y1="231.5" x2="83.5" y2="231.5" stroke="#aa022b" stroke-width="1.25"/>
<rect x="100.7" y="213.5" width="12" height="34.6" fill="#2d4e8c"/>
<line x1="106.5" y1="213.5" x2="106.5" y2="199.5" stroke="#2d4e8c" stroke-width="1.25"/>
<line x1="103.5" y1="199.5" x2="109.5" y2="199.5" stroke="#2d4e8c" stroke-width="1.25"/>
<rect x="115.8" y="231.7" width="12.4" height="16.4" fill="#aa022b"/>
<line x1="122.5" y1="231.7" x2="122.5" y2="230.5" stroke="#aa022b" stroke-width="1.25"/>
<line x1="119.5" y1="230.5" x2="125.5" y2="230.5" stroke="#aa022b" stroke-width="1.25"/>
<path d="M62.5 224.4V220.5H80.5V224.4" fill="none" stroke="#1a1a1a" stroke-width="1.25"/>
<circle cx="69.45" cy="217.2" r="1.2" fill="#1a1a1a"/>
<circle cx="73.55" cy="217.2" r="1.2" fill="#1a1a1a"/>
<path d="M105.5 197.8V193.5H124.5V197.8" fill="none" stroke="#1a1a1a" stroke-width="1.25"/>
<text x="115" y="191.1" font-size="7.5" text-anchor="middle" font-weight="normal" fill="#222" stroke="#222" stroke-width="0.2" >ns</text>
<text transform="translate(73 263.5) scale(0.87 1)" font-size="9.2" text-anchor="middle" font-weight="normal" fill="#222" stroke="#222" stroke-width="0.2" >WT</text>
<text transform="translate(104.8 263.5) scale(0.87 1)" font-size="9.2" text-anchor="start" font-weight="normal" fill="#222" stroke="#222" stroke-width="0.2" >IL-6<tspan font-size="5.4" dy="-3.1" fill="#555" stroke="#555" stroke-width="0.05">-/-</tspan></text>
<text transform="translate(28.2 219.1) rotate(-90) scale(1 1)" font-size="9.5" text-anchor="middle" fill="#222" stroke="#222" stroke-width="0.2" textLength="74.6" lengthAdjust="spacingAndGlyphs">Apoptotic events/hr</text>
<text transform="translate(151.8 166.8) scale(0.96 1)" font-size="10.82" text-anchor="start" font-weight="bold" fill="#000" stroke="#000" stroke-width="0.2" >D</text>
<line x1="199.7" y1="169.6" x2="199.7" y2="248.7" stroke="#1a1a1a" stroke-width="1.4"/>
<line x1="195.7" y1="248" x2="199.7" y2="248" stroke="#1a1a1a" stroke-width="1.12"/>
<text transform="translate(191.6 251.2) scale(0.93 1)" font-size="8.96" text-anchor="end" font-weight="normal" fill="#222" stroke="#222" stroke-width="0.2" >0</text>
<line x1="195.7" y1="223.2" x2="199.7" y2="223.2" stroke="#1a1a1a" stroke-width="1.12"/>
<text transform="translate(191.6 226.4) scale(0.93 1)" font-size="8.96" text-anchor="end" font-weight="normal" fill="#222" stroke="#222" stroke-width="0.2" >50</text>
<line x1="195.7" y1="198.4" x2="199.7" y2="198.4" stroke="#1a1a1a" stroke-width="1.12"/>
<text transform="translate(191.6 201.6) scale(0.93 1)" font-size="8.96" text-anchor="end" font-weight="normal" fill="#222" stroke="#222" stroke-width="0.2" >100</text>
<line x1="195.7" y1="173.6" x2="199.7" y2="173.6" stroke="#1a1a1a" stroke-width="1.12"/>
<text transform="translate(191.6 176.8) scale(0.93 1)" font-size="8.96" text-anchor="end" font-weight="normal" fill="#222" stroke="#222" stroke-width="0.2" >150</text>
<line x1="199.7" y1="248" x2="274.5" y2="248" stroke="#1a1a1a" stroke-width="1.3"/>
<line x1="211.2" y1="248" x2="211.2" y2="251.5" stroke="#1a1a1a" stroke-width="1.3"/>
<line x1="236.7" y1="248" x2="236.7" y2="251.5" stroke="#1a1a1a" stroke-width="1.3"/>
<line x1="262.6" y1="248" x2="262.6" y2="251.5" stroke="#1a1a1a" stroke-width="1.3"/>
<rect x="203" y="211" width="7" height="37" fill="#2d4e8c"/>
<line x1="206.5" y1="211" x2="206.5" y2="205.5" stroke="#2d4e8c" stroke-width="1.25"/>
<line x1="203.98" y1="205.5" x2="209.02" y2="205.5" stroke="#2d4e8c" stroke-width="1.25"/>
<rect x="212.2" y="227.8" width="6.9" height="20.2" fill="#aa022b"/>
<line x1="215.5" y1="227.8" x2="215.5" y2="225.5" stroke="#aa022b" stroke-width="1.25"/>
<line x1="213.02" y1="225.5" x2="217.98" y2="225.5" stroke="#aa022b" stroke-width="1.25"/>
<rect x="228.3" y="190.6" width="7.4" height="57.4" fill="#2d4e8c"/>
<line x1="232.5" y1="190.6" x2="232.5" y2="183.5" stroke="#2d4e8c" stroke-width="1.25"/>
<line x1="229.84" y1="183.5" x2="235.16" y2="183.5" stroke="#2d4e8c" stroke-width="1.25"/>
<rect x="238" y="201.8" width="7.1" height="46.2" fill="#aa022b"/>
<line x1="241.5" y1="201.8" x2="241.5" y2="199.5" stroke="#aa022b" stroke-width="1.25"/>
<line x1="238.94" y1="199.5" x2="244.06" y2="199.5" stroke="#aa022b" stroke-width="1.25"/>
<rect x="254.3" y="195.6" width="6.9" height="52.4" fill="#2d4e8c"/>
<line x1="257.5" y1="195.6" x2="257.5" y2="191.5" stroke="#2d4e8c" stroke-width="1.25"/>
<line x1="255.02" y1="191.5" x2="259.98" y2="191.5" stroke="#2d4e8c" stroke-width="1.25"/>
<rect x="264" y="224.4" width="6.9" height="23.6" fill="#aa022b"/>
<line x1="267.5" y1="224.4" x2="267.5" y2="218.5" stroke="#aa022b" stroke-width="1.25"/>
<line x1="265.02" y1="218.5" x2="269.98" y2="218.5" stroke="#aa022b" stroke-width="1.25"/>
<path d="M206.5 203.7V198.5H216.5V203.7" fill="none" stroke="#1a1a1a" stroke-width="1.25"/>
<circle cx="211.5" cy="195.2" r="1.2" fill="#1a1a1a"/>
<path d="M231.5 180.2V175.5H242.5V180.2" fill="none" stroke="#1a1a1a" stroke-width="1.25"/>
<text x="237" y="173.4" font-size="7.5" text-anchor="middle" font-weight="normal" fill="#222" stroke="#222" stroke-width="0.2" >ns</text>
<path d="M258.5 188.7V183.5H268.5V188.7" fill="none" stroke="#1a1a1a" stroke-width="1.25"/>
<circle cx="263.5" cy="180.2" r="1.2" fill="#1a1a1a"/>
<text transform="translate(210.8 263.6) scale(0.87 1)" font-size="9.2" text-anchor="middle" font-weight="normal" fill="#222" stroke="#222" stroke-width="0.2" >WT</text>
<text transform="translate(227.7 263.6) scale(0.87 1)" font-size="9.2" text-anchor="start" font-weight="normal" fill="#222" stroke="#222" stroke-width="0.2" >IL-6<tspan font-size="5.4" dy="-3.1" fill="#555" stroke="#555" stroke-width="0.05">-/-</tspan></text>
<text transform="translate(252.1 263.6) scale(0.87 1)" font-size="9.2" text-anchor="start" font-weight="normal" fill="#222" stroke="#222" stroke-width="0.2" >April<tspan font-size="5.4" dy="-3.1" fill="#555" stroke="#555" stroke-width="0.05">-/-</tspan></text>
<rect x="280.1" y="207.8" width="7.7" height="4.7" fill="#2d4e8c"/>
<text transform="translate(291.6 212.5) scale(0.78 1)" font-size="9.22" text-anchor="start" font-weight="normal" fill="#222" stroke="#222" stroke-width="0.2" >WT</text>
<rect x="280.1" y="217.2" width="7.7" height="4.4" fill="#aa022b"/>
<text transform="translate(291.6 221.6) scale(0.78 1)" font-size="9.22" text-anchor="start" font-weight="normal" fill="#222" stroke="#222" stroke-width="0.2" >sdc1<tspan font-size="5.4" dy="-3.1" fill="#555" stroke="#555" stroke-width="0.05">-/-</tspan></text>
<text transform="translate(169.8 210.4) rotate(-90) scale(1 1)" font-size="9.2" text-anchor="middle" fill="#222" stroke="#222" stroke-width="0.2" textLength="42.8" lengthAdjust="spacingAndGlyphs">Bcl-2 (MFI)</text>
<line x1="360" y1="168.7" x2="360" y2="248.7" stroke="#1a1a1a" stroke-width="1.4"/>
<line x1="356" y1="248" x2="360" y2="248" stroke="#1a1a1a" stroke-width="1.12"/>
<text transform="translate(351.9 251.2) scale(0.93 1)" font-size="8.86" text-anchor="end" font-weight="normal" fill="#222" stroke="#222" stroke-width="0.2" >0</text>
<line x1="356" y1="229.2" x2="360" y2="229.2" stroke="#1a1a1a" stroke-width="1.12"/>
<text transform="translate(351.9 232.4) scale(0.93 1)" font-size="8.86" text-anchor="end" font-weight="normal" fill="#222" stroke="#222" stroke-width="0.2" >50</text>
<line x1="356" y1="210.4" x2="360" y2="210.4" stroke="#1a1a1a" stroke-width="1.12"/>
<text transform="translate(351.9 213.6) scale(0.93 1)" font-size="8.86" text-anchor="end" font-weight="normal" fill="#222" stroke="#222" stroke-width="0.2" >100</text>
<line x1="356" y1="191.6" x2="360" y2="191.6" stroke="#1a1a1a" stroke-width="1.12"/>
<text transform="translate(351.9 194.8) scale(0.93 1)" font-size="8.86" text-anchor="end" font-weight="normal" fill="#222" stroke="#222" stroke-width="0.2" >150</text>
<line x1="356" y1="172.8" x2="360" y2="172.8" stroke="#1a1a1a" stroke-width="1.12"/>
<text transform="translate(351.9 176) scale(0.93 1)" font-size="8.86" text-anchor="end" font-weight="normal" fill="#222" stroke="#222" stroke-width="0.2" >200</text>
<line x1="360" y1="248" x2="435" y2="248" stroke="#1a1a1a" stroke-width="1.3"/>
<line x1="371.6" y1="248" x2="371.6" y2="251.5" stroke="#1a1a1a" stroke-width="1.3"/>
<line x1="397.4" y1="248" x2="397.4" y2="251.5" stroke="#1a1a1a" stroke-width="1.3"/>
<line x1="423.5" y1="248" x2="423.5" y2="251.5" stroke="#1a1a1a" stroke-width="1.3"/>
<rect x="363.1" y="214.2" width="7" height="33.8" fill="#4c2270"/>
<line x1="366.5" y1="214.2" x2="366.5" y2="209.5" stroke="#4c2270" stroke-width="1.25"/>
<line x1="363.98" y1="209.5" x2="369.02" y2="209.5" stroke="#4c2270" stroke-width="1.25"/>
<rect x="372.8" y="224.2" width="7.2" height="23.8" fill="#de9524"/>
<line x1="376.5" y1="224.2" x2="376.5" y2="219.5" stroke="#de9524" stroke-width="1.25"/>
<line x1="373.91" y1="219.5" x2="379.09" y2="219.5" stroke="#de9524" stroke-width="1.25"/>
<rect x="389.4" y="195.2" width="6.8" height="52.8" fill="#4c2270"/>
<line x1="392.5" y1="195.2" x2="392.5" y2="188.5" stroke="#4c2270" stroke-width="1.25"/>
<line x1="390.05" y1="188.5" x2="394.95" y2="188.5" stroke="#4c2270" stroke-width="1.25"/>
<rect x="399.3" y="207.6" width="6.6" height="40.4" fill="#de9524"/>
<line x1="402.5" y1="207.6" x2="402.5" y2="201.5" stroke="#de9524" stroke-width="1.25"/>
<line x1="400.12" y1="201.5" x2="404.88" y2="201.5" stroke="#de9524" stroke-width="1.25"/>
<rect x="414.9" y="201" width="7.3" height="47" fill="#4c2270"/>
<line x1="418.5" y1="201" x2="418.5" y2="197.5" stroke="#4c2270" stroke-width="1.25"/>
<line x1="415.87" y1="197.5" x2="421.13" y2="197.5" stroke="#4c2270" stroke-width="1.25"/>
<rect x="424.8" y="211.3" width="7.3" height="36.7" fill="#de9524"/>
<line x1="428.5" y1="211.3" x2="428.5" y2="207.5" stroke="#de9524" stroke-width="1.25"/>
<line x1="425.87" y1="207.5" x2="431.13" y2="207.5" stroke="#de9524" stroke-width="1.25"/>
<path d="M367.5 206V200.5H376.5V206" fill="none" stroke="#1a1a1a" stroke-width="1.25"/>
<circle cx="372" cy="197.2" r="1.2" fill="#1a1a1a"/>
<path d="M392.5 184.4V178.5H402.5V184.4" fill="none" stroke="#1a1a1a" stroke-width="1.25"/>
<circle cx="397.5" cy="175.2" r="1.2" fill="#1a1a1a"/>
<path d="M418.5 192.1V186.5H429.5V192.1" fill="none" stroke="#1a1a1a" stroke-width="1.25"/>
<text x="424" y="184.5" font-size="7.5" text-anchor="middle" font-weight="normal" fill="#222" stroke="#222" stroke-width="0.2" >ns</text>
<text transform="translate(371.6 263.6) scale(0.87 1)" font-size="9.2" text-anchor="middle" font-weight="normal" fill="#222" stroke="#222" stroke-width="0.2" >WT</text>
<text transform="translate(388.4 263.6) scale(0.87 1)" font-size="9.2" text-anchor="start" font-weight="normal" fill="#222" stroke="#222" stroke-width="0.2" >IL-6<tspan font-size="5.4" dy="-3.1" fill="#555" stroke="#555" stroke-width="0.05">-/-</tspan></text>
<text transform="translate(413.1 263.6) scale(0.87 1)" font-size="9.2" text-anchor="start" font-weight="normal" fill="#222" stroke="#222" stroke-width="0.2" >April<tspan font-size="5.4" dy="-3.1" fill="#555" stroke="#555" stroke-width="0.05">-/-</tspan></text>
<rect x="441" y="207.6" width="7.7" height="4.7" fill="#4c2270"/>
<text transform="translate(452 212.6) scale(0.87 1)" font-size="8.85" text-anchor="start" font-weight="normal" fill="#222" stroke="#222" stroke-width="0.2" >WT CD138<tspan font-size="4.6" dy="-3">+</tspan></text>
<rect x="441" y="216.3" width="7.7" height="4.8" fill="#de9524"/>
<text transform="translate(452 221.3) scale(0.87 1)" font-size="8.85" text-anchor="start" font-weight="normal" fill="#222" stroke="#222" stroke-width="0.2" >WT CD138<tspan font-size="4.6" dy="-3">-</tspan></text>
<text transform="translate(330.6 210.7) rotate(-90) scale(1 1)" font-size="9.2" text-anchor="middle" fill="#222" stroke="#222" stroke-width="0.2" textLength="42.2" lengthAdjust="spacingAndGlyphs">Bcl-2 (MFI)</text>
<line x1="228" y1="272.5" x2="403.3" y2="272.5" stroke="#1a1a1a" stroke-width="1.3"/>
<text transform="translate(274.4 283.3) scale(0.82 1)" font-size="10.13" text-anchor="start" font-weight="normal" fill="#222" stroke="#222" stroke-width="0.15" >Gated on YFP+ ASCs</text>
<text transform="translate(8.9 312) scale(0.85 1)" font-size="11.93" text-anchor="start" font-weight="bold" fill="#000" stroke="#000" stroke-width="0.2" >E</text>
<line x1="56.5" y1="313.8" x2="56.5" y2="393.12" stroke="#1a1a1a" stroke-width="1.45"/>
<line x1="52.5" y1="392.4" x2="56.5" y2="392.4" stroke="#1a1a1a" stroke-width="1.16"/>
<text x="48.4" y="395.3" font-size="8.4" text-anchor="end" font-weight="normal" fill="#222" stroke="#222" stroke-width="0.2" >0</text>
<line x1="52.5" y1="367.3" x2="56.5" y2="367.3" stroke="#1a1a1a" stroke-width="1.16"/>
<text x="48.4" y="370.2" font-size="8.4" text-anchor="end" font-weight="normal" fill="#222" stroke="#222" stroke-width="0.2" >200</text>
<line x1="52.5" y1="342.2" x2="56.5" y2="342.2" stroke="#1a1a1a" stroke-width="1.16"/>
<text x="48.4" y="345.1" font-size="8.4" text-anchor="end" font-weight="normal" fill="#222" stroke="#222" stroke-width="0.2" >400</text>
<line x1="52.5" y1="317.1" x2="56.5" y2="317.1" stroke="#1a1a1a" stroke-width="1.16"/>
<text x="48.4" y="320" font-size="8.4" text-anchor="end" font-weight="normal" fill="#222" stroke="#222" stroke-width="0.2" >600</text>
<line x1="56.5" y1="392.4" x2="130.5" y2="392.4" stroke="#1a1a1a" stroke-width="1.45"/>
<line x1="67.4" y1="392.4" x2="67.4" y2="395.9" stroke="#1a1a1a" stroke-width="1.45"/>
<line x1="93.7" y1="392.4" x2="93.7" y2="395.9" stroke="#1a1a1a" stroke-width="1.45"/>
<line x1="119.4" y1="392.4" x2="119.4" y2="395.9" stroke="#1a1a1a" stroke-width="1.45"/>
<rect x="59.4" y="360.9" width="7.2" height="31.5" fill="#2d4e8c"/>
<line x1="63.5" y1="360.9" x2="63.5" y2="358.5" stroke="#2d4e8c" stroke-width="1.25"/>
<line x1="60.91" y1="358.5" x2="66.09" y2="358.5" stroke="#2d4e8c" stroke-width="1.25"/>
<rect x="69.1" y="373.1" width="7.3" height="19.3" fill="#aa022b"/>
<line x1="72.5" y1="373.1" x2="72.5" y2="371.5" stroke="#aa022b" stroke-width="1.25"/>
<line x1="69.87" y1="371.5" x2="75.13" y2="371.5" stroke="#aa022b" stroke-width="1.25"/>
<rect x="85.2" y="363.9" width="7.3" height="28.5" fill="#2d4e8c"/>
<line x1="88.5" y1="363.9" x2="88.5" y2="361.5" stroke="#2d4e8c" stroke-width="1.25"/>
<line x1="85.87" y1="361.5" x2="91.13" y2="361.5" stroke="#2d4e8c" stroke-width="1.25"/>
<rect x="94.8" y="369.4" width="7.6" height="23" fill="#aa022b"/>
<line x1="98.5" y1="369.4" x2="98.5" y2="367.5" stroke="#aa022b" stroke-width="1.25"/>
<line x1="95.76" y1="367.5" x2="101.24" y2="367.5" stroke="#aa022b" stroke-width="1.25"/>
<rect x="111.4" y="348.7" width="6.9" height="43.7" fill="#2d4e8c"/>
<line x1="114.5" y1="348.7" x2="114.5" y2="340.5" stroke="#2d4e8c" stroke-width="1.25"/>
<line x1="112.02" y1="340.5" x2="116.98" y2="340.5" stroke="#2d4e8c" stroke-width="1.25"/>
<rect x="120.8" y="343" width="7.4" height="49.4" fill="#aa022b"/>
<line x1="124.5" y1="343" x2="124.5" y2="334.5" stroke="#aa022b" stroke-width="1.25"/>
<line x1="121.84" y1="334.5" x2="127.16" y2="334.5" stroke="#aa022b" stroke-width="1.25"/>
<path d="M64.5 355.2V349.5H73.5V355.2" fill="none" stroke="#1a1a1a" stroke-width="1.25"/>
<circle cx="69" cy="346.2" r="1.2" fill="#1a1a1a"/>
<path d="M88.5 357.5V352.5H98.5V357.5" fill="none" stroke="#1a1a1a" stroke-width="1.25"/>
<text x="93.5" y="350.7" font-size="7.5" text-anchor="middle" font-weight="normal" fill="#222" stroke="#222" stroke-width="0.2" >ns</text>
<path d="M114.5 329.4V323.5H125.5V329.4" fill="none" stroke="#1a1a1a" stroke-width="1.25"/>
<text x="120" y="321.9" font-size="7.5" text-anchor="middle" font-weight="normal" fill="#222" stroke="#222" stroke-width="0.2" >ns</text>
<text transform="translate(67.8 407.7) scale(0.87 1)" font-size="9.2" text-anchor="middle" font-weight="normal" fill="#222" stroke="#222" stroke-width="0.2" >WT</text>
<text transform="translate(84.4 407.7) scale(0.87 1)" font-size="9.2" text-anchor="start" font-weight="normal" fill="#222" stroke="#222" stroke-width="0.2" >IL-6<tspan font-size="5.4" dy="-3.1" fill="#555" stroke="#555" stroke-width="0.05">-/-</tspan></text>
<text transform="translate(108.8 407.7) scale(0.87 1)" font-size="9.2" text-anchor="start" font-weight="normal" fill="#222" stroke="#222" stroke-width="0.2" >April<tspan font-size="5.4" dy="-3.1" fill="#555" stroke="#555" stroke-width="0.05">-/-</tspan></text>
<rect x="135.2" y="352.2" width="7.9" height="4.6" fill="#2d4e8c"/>
<text transform="translate(146.6 356.8) scale(0.78 1)" font-size="9.22" text-anchor="start" font-weight="normal" fill="#222" stroke="#222" stroke-width="0.2" >WT</text>
<rect x="135.2" y="361.3" width="7.9" height="4.7" fill="#aa022b"/>
<text transform="translate(146.6 366) scale(0.78 1)" font-size="9.22" text-anchor="start" font-weight="normal" fill="#222" stroke="#222" stroke-width="0.2" >sdc1<tspan font-size="5.4" dy="-3.1" fill="#555" stroke="#555" stroke-width="0.05">-/-</tspan></text>
<text transform="translate(28.3 355) rotate(-90) scale(1 1)" font-size="9.2" text-anchor="middle" fill="#222" stroke="#222" stroke-width="0.2" textLength="46.9" lengthAdjust="spacingAndGlyphs">Mcl-1 (MFI)</text>
<line x1="220.1" y1="316.2" x2="220.1" y2="394.03" stroke="#1a1a1a" stroke-width="1.45"/>
<line x1="216.1" y1="393.3" x2="220.1" y2="393.3" stroke="#1a1a1a" stroke-width="1.16"/>
<text transform="translate(212 396.3) scale(0.95 1)" font-size="8.61" text-anchor="end" font-weight="normal" fill="#222" stroke="#222" stroke-width="0.2" >0</text>
<line x1="216.1" y1="378.6" x2="220.1" y2="378.6" stroke="#1a1a1a" stroke-width="1.16"/>
<text transform="translate(212 381.6) scale(0.95 1)" font-size="8.61" text-anchor="end" font-weight="normal" fill="#222" stroke="#222" stroke-width="0.2" >100</text>
<line x1="216.1" y1="363.9" x2="220.1" y2="363.9" stroke="#1a1a1a" stroke-width="1.16"/>
<text transform="translate(212 366.9) scale(0.95 1)" font-size="8.61" text-anchor="end" font-weight="normal" fill="#222" stroke="#222" stroke-width="0.2" >200</text>
<line x1="216.1" y1="349.2" x2="220.1" y2="349.2" stroke="#1a1a1a" stroke-width="1.16"/>
<text transform="translate(212 352.2) scale(0.95 1)" font-size="8.61" text-anchor="end" font-weight="normal" fill="#222" stroke="#222" stroke-width="0.2" >300</text>
<line x1="216.1" y1="334.5" x2="220.1" y2="334.5" stroke="#1a1a1a" stroke-width="1.16"/>
<text transform="translate(212 337.5) scale(0.95 1)" font-size="8.61" text-anchor="end" font-weight="normal" fill="#222" stroke="#222" stroke-width="0.2" >400</text>
<line x1="216.1" y1="319.8" x2="220.1" y2="319.8" stroke="#1a1a1a" stroke-width="1.16"/>
<text transform="translate(212 322.8) scale(0.95 1)" font-size="8.61" text-anchor="end" font-weight="normal" fill="#222" stroke="#222" stroke-width="0.2" >500</text>
<line x1="220.1" y1="393.3" x2="294.5" y2="393.3" stroke="#1a1a1a" stroke-width="1.45"/>
<line x1="231.2" y1="393.3" x2="231.2" y2="396.8" stroke="#1a1a1a" stroke-width="1.45"/>
<line x1="257.3" y1="393.3" x2="257.3" y2="396.8" stroke="#1a1a1a" stroke-width="1.45"/>
<line x1="283.1" y1="393.3" x2="283.1" y2="396.8" stroke="#1a1a1a" stroke-width="1.45"/>
<rect x="223.1" y="345.6" width="6.6" height="47.7" fill="#4c2270"/>
<line x1="226.5" y1="345.6" x2="226.5" y2="343.5" stroke="#4c2270" stroke-width="1.25"/>
<line x1="224.12" y1="343.5" x2="228.88" y2="343.5" stroke="#4c2270" stroke-width="1.25"/>
<rect x="232.8" y="361.8" width="7.2" height="31.5" fill="#de9524"/>
<line x1="236.5" y1="361.8" x2="236.5" y2="358.5" stroke="#de9524" stroke-width="1.25"/>
<line x1="233.91" y1="358.5" x2="239.09" y2="358.5" stroke="#de9524" stroke-width="1.25"/>
<rect x="248.7" y="346.2" width="6.9" height="47.1" fill="#4c2270"/>
<line x1="252.5" y1="346.2" x2="252.5" y2="342.5" stroke="#4c2270" stroke-width="1.25"/>
<line x1="250.02" y1="342.5" x2="254.98" y2="342.5" stroke="#4c2270" stroke-width="1.25"/>
<rect x="258.7" y="365.5" width="6.6" height="27.8" fill="#de9524"/>
<line x1="262.5" y1="365.5" x2="262.5" y2="363.5" stroke="#de9524" stroke-width="1.25"/>
<line x1="260.12" y1="363.5" x2="264.88" y2="363.5" stroke="#de9524" stroke-width="1.25"/>
<rect x="274.5" y="332.4" width="6.8" height="60.9" fill="#4c2270"/>
<line x1="277.5" y1="332.4" x2="277.5" y2="329.5" stroke="#4c2270" stroke-width="1.25"/>
<line x1="275.05" y1="329.5" x2="279.95" y2="329.5" stroke="#4c2270" stroke-width="1.25"/>
<rect x="284.4" y="348.9" width="7.1" height="44.4" fill="#de9524"/>
<line x1="287.5" y1="348.9" x2="287.5" y2="338.5" stroke="#de9524" stroke-width="1.25"/>
<line x1="284.94" y1="338.5" x2="290.06" y2="338.5" stroke="#de9524" stroke-width="1.25"/>
<path d="M226.5 339V334.5H235.5V339" fill="none" stroke="#1a1a1a" stroke-width="1.25"/>
<circle cx="231" cy="331.2" r="1.2" fill="#1a1a1a"/>
<path d="M252.5 339.4V334.5H261.5V339.4" fill="none" stroke="#1a1a1a" stroke-width="1.25"/>
<circle cx="257" cy="331.2" r="1.2" fill="#1a1a1a"/>
<path d="M277.5 324.9V319.5H288.5V324.9" fill="none" stroke="#1a1a1a" stroke-width="1.25"/>
<text x="283" y="317.3" font-size="7.5" text-anchor="middle" font-weight="normal" fill="#222" stroke="#222" stroke-width="0.2" >ns</text>
<text transform="translate(230.6 408.8) scale(0.87 1)" font-size="9.2" text-anchor="middle" font-weight="normal" fill="#222" stroke="#222" stroke-width="0.2" >WT</text>
<text transform="translate(247.3 408.8) scale(0.87 1)" font-size="9.2" text-anchor="start" font-weight="normal" fill="#222" stroke="#222" stroke-width="0.2" >IL-6<tspan font-size="5.4" dy="-3.1" fill="#555" stroke="#555" stroke-width="0.05">-/-</tspan></text>
<text transform="translate(272 408.8) scale(0.87 1)" font-size="9.2" text-anchor="start" font-weight="normal" fill="#222" stroke="#222" stroke-width="0.2" >April<tspan font-size="5.4" dy="-3.1" fill="#555" stroke="#555" stroke-width="0.05">-/-</tspan></text>
<rect x="299.3" y="351.4" width="8.7" height="5.2" fill="#4c2270"/>
<text transform="translate(311 356.6) scale(0.87 1)" font-size="8.85" text-anchor="start" font-weight="normal" fill="#222" stroke="#222" stroke-width="0.2" >WT CD138<tspan font-size="4.6" dy="-3">+</tspan></text>
<rect x="299.3" y="360.1" width="8.7" height="5.4" fill="#de9524"/>
<text transform="translate(311 365.5) scale(0.87 1)" font-size="8.85" text-anchor="start" font-weight="normal" fill="#222" stroke="#222" stroke-width="0.2" >WT CD138<tspan font-size="4.6" dy="-3">-</tspan></text>
<text transform="translate(193 356.3) rotate(-90) scale(1 1)" font-size="9.2" text-anchor="middle" fill="#222" stroke="#222" stroke-width="0.2" textLength="46" lengthAdjust="spacingAndGlyphs">Mcl-1 (MFI)</text>
<line x1="85" y1="416.7" x2="270.8" y2="416.7" stroke="#1a1a1a" stroke-width="1.3"/>
<text transform="translate(136.3 427.7) scale(0.82 1)" font-size="10.13" text-anchor="start" font-weight="normal" fill="#222" stroke="#222" stroke-width="0.15" >Gated on YFP+ ASCs</text>
<path d="M0 0H520V435H0Z M1.3 1.3V433.5H518.5V1.3Z" fill="#000" fill-rule="evenodd"/>
</svg>
</body></html>
